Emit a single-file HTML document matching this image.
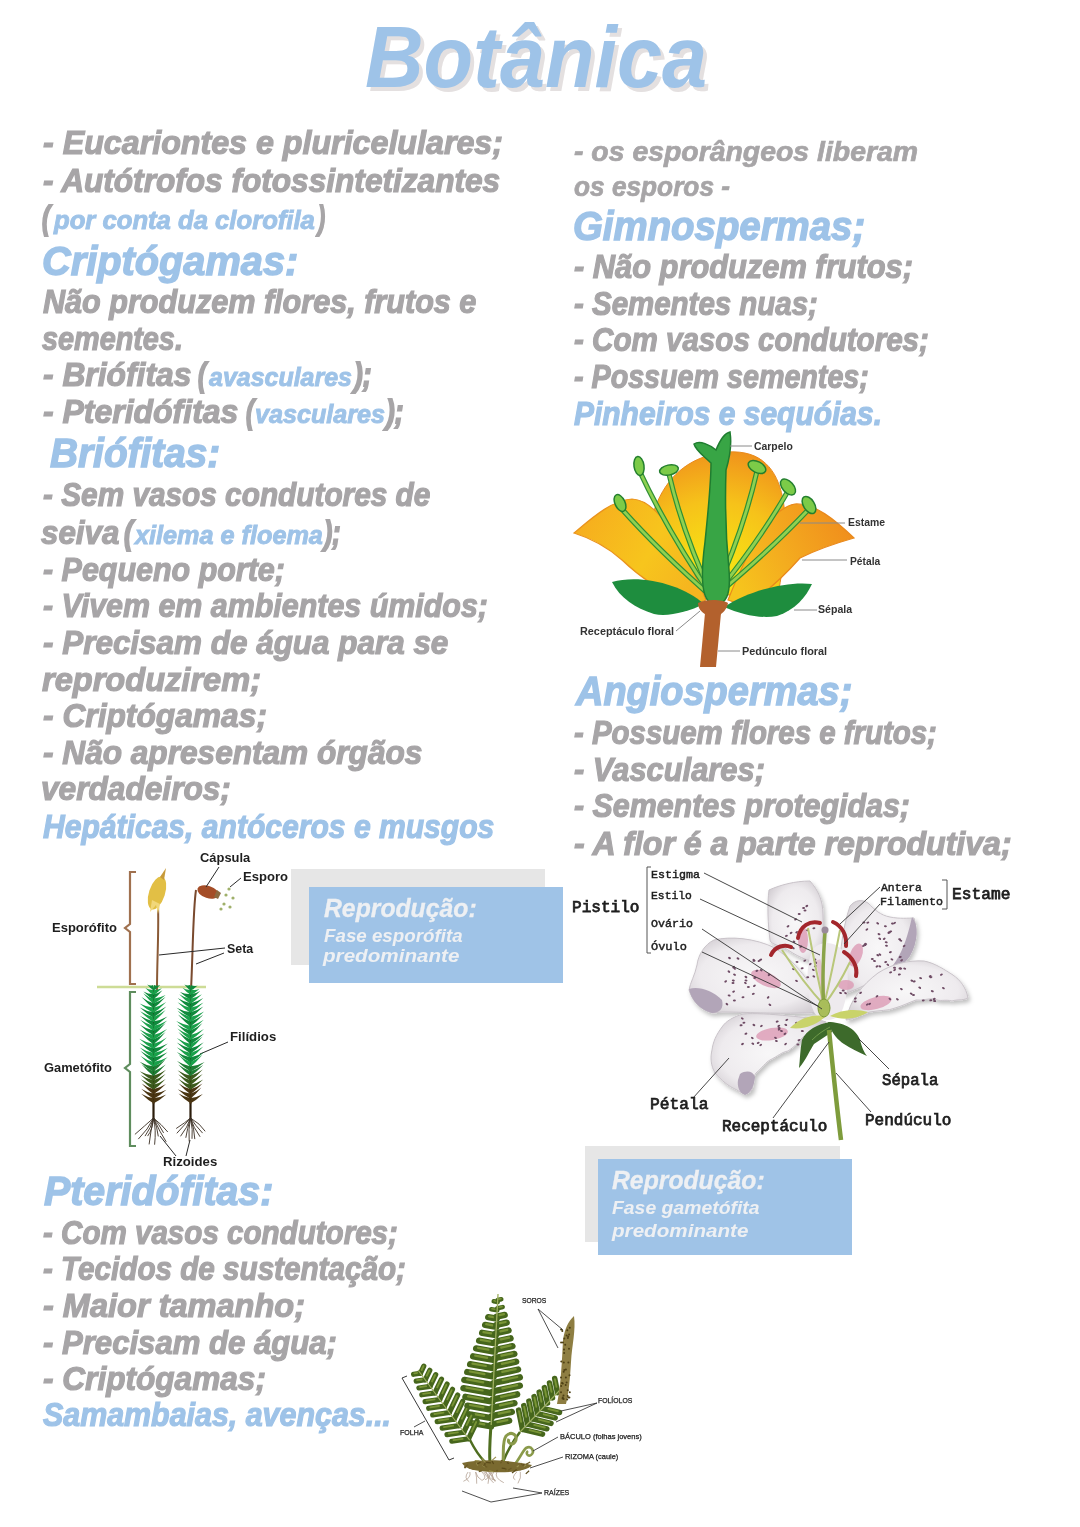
<!DOCTYPE html>
<html><head><meta charset="utf-8"><style>
html,body{margin:0;padding:0;background:#fff;}
body{width:1080px;height:1527px;position:relative;overflow:hidden;}
.a,.b,.c,.d,.e{position:absolute;line-height:1;white-space:pre;transform-origin:0 0;}
.a{font-family:"Liberation Sans",sans-serif;font-style:italic;font-weight:bold;}
.b{font-family:"Liberation Sans",sans-serif;font-weight:bold;}
.c{font-family:"Liberation Sans",sans-serif;}
.d{font-family:"Liberation Mono",monospace;}
.e{font-family:"Liberation Mono",monospace;font-weight:bold;}
svg{position:absolute;left:0;top:0;}
</style></head><body>
<svg width="1080" height="1527" viewBox="0 0 1080 1527">
<rect x="291" y="869" width="254" height="96" fill="#e6e6e6"/>
<rect x="309" y="887" width="254" height="96" fill="#9fc3e7"/>
<rect x="585" y="1146" width="255" height="96" fill="#e6e6e6"/>
<rect x="598" y="1159" width="254" height="96" fill="#9fc3e7"/>
<defs>
<radialGradient id="gd" cx="715" cy="575" r="135" gradientUnits="userSpaceOnUse">
<stop offset="0" stop-color="#f7ea12"/><stop offset="0.55" stop-color="#f6c21a"/><stop offset="1" stop-color="#ef8a1c"/></radialGradient>
<linearGradient id="gl" x1="574" y1="520" x2="690" y2="590" gradientUnits="userSpaceOnUse">
<stop offset="0" stop-color="#f6ac1e"/><stop offset="0.6" stop-color="#f7c51d"/><stop offset="1" stop-color="#f5b51f"/></linearGradient>
<linearGradient id="gr" x1="854" y1="530" x2="740" y2="590" gradientUnits="userSpaceOnUse">
<stop offset="0" stop-color="#f08d1c"/><stop offset="0.6" stop-color="#f4ad1f"/><stop offset="1" stop-color="#f6c41d"/></linearGradient>
</defs>
<path d="M648 595 C640 530 655 458 728 452 C795 448 790 530 778 595 Z" fill="url(#gd)" stroke="#e98a1d" stroke-width="1"/>
<path d="M574 533 C592 518 612 500 632 499 C660 500 685 550 706 600 L690 606 C665 592 645 582 622 560 C605 545 590 538 574 533 Z" fill="url(#gl)" stroke="#ea931d" stroke-width="1.2"/>
<path d="M854 538 C835 520 815 503 795 504 C770 508 748 550 728 600 L745 606 C768 592 785 575 800 558 C820 548 840 542 854 538 Z" fill="url(#gr)" stroke="#e9891c" stroke-width="1.2"/>
<path d="M620 507 Q658.5 550.5 713 598" stroke="#2f8f35" stroke-width="5.2" fill="none"/>
<path d="M639 470 Q668.0 532.0 713 598" stroke="#2f8f35" stroke-width="5.2" fill="none"/>
<path d="M669 474 Q683.0 534.0 713 598" stroke="#2f8f35" stroke-width="5.2" fill="none"/>
<path d="M757 471 Q743.0 532.5 713 598" stroke="#2f8f35" stroke-width="5.2" fill="none"/>
<path d="M788 491 Q758.5 542.5 713 598" stroke="#2f8f35" stroke-width="5.2" fill="none"/>
<path d="M809 509 Q769.0 551.5 713 598" stroke="#2f8f35" stroke-width="5.2" fill="none"/>
<path d="M620 507 Q658.5 550.5 713 598" stroke="#8fd150" stroke-width="2.8" fill="none"/>
<path d="M639 470 Q668.0 532.0 713 598" stroke="#8fd150" stroke-width="2.8" fill="none"/>
<path d="M669 474 Q683.0 534.0 713 598" stroke="#8fd150" stroke-width="2.8" fill="none"/>
<path d="M757 471 Q743.0 532.5 713 598" stroke="#8fd150" stroke-width="2.8" fill="none"/>
<path d="M788 491 Q758.5 542.5 713 598" stroke="#8fd150" stroke-width="2.8" fill="none"/>
<path d="M809 509 Q769.0 551.5 713 598" stroke="#8fd150" stroke-width="2.8" fill="none"/>
<ellipse cx="620" cy="503" rx="5" ry="9" transform="rotate(-25 620 503)" fill="#7ccb48" stroke="#237f2e" stroke-width="1.5"/>
<ellipse cx="639" cy="466" rx="5" ry="9.5" transform="rotate(-8 639 466)" fill="#7ccb48" stroke="#237f2e" stroke-width="1.5"/>
<ellipse cx="669" cy="470" rx="9.5" ry="5" transform="rotate(-12 669 470)" fill="#7ccb48" stroke="#237f2e" stroke-width="1.5"/>
<ellipse cx="757" cy="467" rx="9.5" ry="5.5" transform="rotate(28 757 467)" fill="#7ccb48" stroke="#237f2e" stroke-width="1.5"/>
<ellipse cx="788" cy="487" rx="9.5" ry="5.5" transform="rotate(48 788 487)" fill="#7ccb48" stroke="#237f2e" stroke-width="1.5"/>
<ellipse cx="809" cy="505" rx="5.5" ry="9.5" transform="rotate(-32 809 505)" fill="#7ccb48" stroke="#237f2e" stroke-width="1.5"/>
<path d="M612 582 C640 574 682 584 704 604 C688 612 668 617 654 614 C635 608 620 598 612 582 Z" fill="#1e8d3e"/>
<path d="M812 584 C788 581 750 590 724 607 C742 615 762 619 777 616 C795 610 806 597 812 584 Z" fill="#1e8d3e"/>
<path d="M713 604 C700 601 701 572 705 542 C708 512 711 485 711 463 C704 456 696 451 694 444 C700 440 710 445 716 450 C720 440 725 433 730 432 C732 445 729 460 726 470 C725 500 726 540 729 570 C731 595 726 606 713 604 Z" fill="#38a545" stroke="#1f7d30" stroke-width="1.5"/>
<path d="M698 603 C705 599 722 599 728 603 C727 610 722 613 720 615 L706 615 C702 612 698 609 698 603 Z" fill="#b3612d"/>
<path d="M705 613 L721 613 L716 667 L700 667 Z" fill="#b3612d"/>
<line x1="730" y1="446" x2="752" y2="446" stroke="#8a8a8a" stroke-width="1"/>
<line x1="800" y1="523" x2="845" y2="523" stroke="#8a8a8a" stroke-width="1"/>
<line x1="802" y1="560" x2="847" y2="560" stroke="#8a8a8a" stroke-width="1"/>
<line x1="794" y1="610" x2="817" y2="610" stroke="#8a8a8a" stroke-width="1"/>
<line x1="676" y1="631" x2="700" y2="611" stroke="#8a8a8a" stroke-width="1"/>
<line x1="718" y1="651" x2="740" y2="651" stroke="#8a8a8a" stroke-width="1"/>
<path d="M136 872 L130 872 L130 924 L125 928 L130 932 L130 984 L136 984" stroke="#a0714f" stroke-width="2.2" fill="none"/>
<path d="M136 992 L130 992 L130 1064 L125 1068 L130 1072 L130 1146 L136 1146" stroke="#5f8d5e" stroke-width="2.2" fill="none"/>
<line x1="97" y1="987" x2="206" y2="987" stroke="#cddc96" stroke-width="2.5"/>
<path d="M158 905 C159 930 157 960 157 990" stroke="#8a5a36" stroke-width="2" fill="none"/>
<path d="M196 890 C193 910 193 950 191 990" stroke="#7a4a2e" stroke-width="2" fill="none"/>
<ellipse cx="157" cy="893" rx="8" ry="17" transform="rotate(18 157 893)" fill="#e2bf45"/>
<path d="M160 877 L166 868 L164 880 Z" fill="#c79a3a"/>
<path d="M152 900 L150 912 L156 905 L158 914 L160 904 Z" fill="#f1d77a"/>
<ellipse cx="208" cy="892" rx="11" ry="6" transform="rotate(18 208 892)" fill="#a44d27"/>
<path d="M217 890 L221 893 L218 899 L214 897 Z" fill="#8b6a40"/>
<circle cx="226" cy="895" r="1.6" fill="#9fb06a"/>
<circle cx="229" cy="889" r="1.6" fill="#9fb06a"/>
<circle cx="224" cy="904" r="1.6" fill="#9fb06a"/>
<circle cx="230" cy="907" r="1.6" fill="#9fb06a"/>
<circle cx="221" cy="909" r="1.6" fill="#9fb06a"/>
<circle cx="233" cy="898" r="1.6" fill="#9fb06a"/>
<line x1="219" y1="867" x2="206" y2="887" stroke="#2a2a2a" stroke-width="1"/>
<line x1="241" y1="878" x2="230" y2="887" stroke="#2a2a2a" stroke-width="1"/>
<line x1="159" y1="955" x2="225" y2="948" stroke="#2a2a2a" stroke-width="1"/>
<line x1="196" y1="964" x2="224" y2="953" stroke="#2a2a2a" stroke-width="1"/>
<line x1="228" y1="1042" x2="200" y2="1054" stroke="#2a2a2a" stroke-width="1"/>
<line x1="176" y1="1156" x2="160" y2="1136" stroke="#2a2a2a" stroke-width="1"/>
<line x1="186" y1="1156" x2="190" y2="1140" stroke="#2a2a2a" stroke-width="1"/>
<path d="M153.5 990 L153.5 1119" stroke="#2b1c0a" stroke-width="2.2"/>
<path d="M154.5 991.0 Q150.9 989.3 147.2 984.6 Q150.3 986.3 153.0 985.0 Z" fill="#0f8a3c"/>
<path d="M152.5 991.0 Q156.3 989.5 160.2 985.0 Q156.9 986.5 154.0 985.0 Z" fill="#0f8a3c"/>
<path d="M154.5 995.52 Q150.1 993.2 145.4 987.9 Q149.5 990.2 153.0 989.52 Z" fill="#19a04a"/>
<path d="M152.5 995.52 Q157.1 993.4 161.9 988.3 Q157.7 990.4 154.0 989.52 Z" fill="#19a04a"/>
<path d="M154.5 1000.04 Q149.1 997.2 143.4 991.4 Q148.5 994.2 153.0 994.04 Z" fill="#0f8a3c"/>
<path d="M152.5 1000.04 Q157.4 996.7 162.5 990.3 Q158.0 993.7 154.0 994.04 Z" fill="#0f8a3c"/>
<path d="M154.5 1004.56 Q149.0 1000.4 143.2 993.2 Q148.4 997.4 153.0 998.56 Z" fill="#19a04a"/>
<path d="M152.5 1004.56 Q158.9 1001.3 165.6 995.1 Q159.5 998.3 154.0 998.56 Z" fill="#19a04a"/>
<path d="M154.5 1009.08 Q148.1 1004.6 141.5 997.1 Q147.5 1001.6 153.0 1003.08 Z" fill="#0f8a3c"/>
<path d="M152.5 1009.08 Q158.9 1004.6 165.5 997.0 Q159.5 1001.6 154.0 1003.08 Z" fill="#0f8a3c"/>
<path d="M154.5 1013.6 Q147.2 1010.0 139.6 1003.5 Q146.6 1007.0 153.0 1007.6 Z" fill="#19a04a"/>
<path d="M152.5 1013.6 Q159.2 1009.3 166.2 1002.0 Q159.8 1006.3 154.0 1007.6 Z" fill="#19a04a"/>
<path d="M154.5 1018.12 Q147.3 1014.3 139.8 1007.4 Q146.7 1011.3 153.0 1012.12 Z" fill="#0f8a3c"/>
<path d="M152.5 1018.12 Q159.3 1013.8 166.4 1006.4 Q159.9 1010.8 154.0 1012.12 Z" fill="#0f8a3c"/>
<path d="M154.5 1022.64 Q147.4 1018.5 140.1 1011.3 Q146.8 1015.5 153.0 1016.64 Z" fill="#19a04a"/>
<path d="M152.5 1022.64 Q159.0 1017.8 165.6 1010.0 Q159.6 1014.8 154.0 1016.64 Z" fill="#19a04a"/>
<path d="M154.5 1027.1599999999999 Q147.4 1022.9 140.0 1015.7 Q146.8 1019.9 153.0 1021.16 Z" fill="#0f8a3c"/>
<path d="M152.5 1027.1599999999999 Q159.9 1023.3 167.5 1016.4 Q160.5 1020.3 154.0 1021.16 Z" fill="#0f8a3c"/>
<path d="M154.5 1031.68 Q147.5 1027.3 140.2 1019.8 Q146.9 1024.3 153.0 1025.68 Z" fill="#19a04a"/>
<path d="M152.5 1031.68 Q159.8 1027.6 167.3 1020.4 Q160.4 1024.6 154.0 1025.68 Z" fill="#19a04a"/>
<path d="M154.5 1036.2 Q147.2 1032.0 139.8 1024.7 Q146.6 1029.0 153.0 1030.2 Z" fill="#0f8a3c"/>
<path d="M152.5 1036.2 Q159.0 1031.1 165.7 1023.1 Q159.6 1028.1 154.0 1030.2 Z" fill="#0f8a3c"/>
<path d="M154.5 1040.72 Q147.1 1036.6 139.5 1029.4 Q146.5 1033.6 153.0 1034.72 Z" fill="#19a04a"/>
<path d="M152.5 1040.72 Q159.7 1036.3 167.1 1029.0 Q160.3 1033.3 154.0 1034.72 Z" fill="#19a04a"/>
<path d="M154.5 1045.24 Q147.7 1040.4 140.6 1032.7 Q147.1 1037.4 153.0 1039.24 Z" fill="#0f8a3c"/>
<path d="M152.5 1045.24 Q159.0 1040.1 165.6 1031.9 Q159.6 1037.1 154.0 1039.24 Z" fill="#0f8a3c"/>
<path d="M154.5 1049.76 Q147.0 1045.8 139.2 1038.8 Q146.4 1042.8 153.0 1043.76 Z" fill="#19a04a"/>
<path d="M152.5 1049.76 Q159.6 1045.2 166.8 1037.6 Q160.2 1042.2 154.0 1043.76 Z" fill="#19a04a"/>
<path d="M154.5 1054.28 Q147.2 1050.1 139.6 1042.9 Q146.6 1047.1 153.0 1048.28 Z" fill="#0f8a3c"/>
<path d="M152.5 1054.28 Q160.0 1050.3 167.8 1043.4 Q160.6 1047.3 154.0 1048.28 Z" fill="#0f8a3c"/>
<path d="M154.5 1058.8 Q147.2 1054.6 139.7 1047.4 Q146.6 1051.6 153.0 1052.8 Z" fill="#19a04a"/>
<path d="M152.5 1058.8 Q160.1 1054.9 167.8 1048.0 Q160.7 1051.9 154.0 1052.8 Z" fill="#19a04a"/>
<path d="M154.5 1063.32 Q147.6 1058.7 140.5 1051.1 Q147.0 1055.7 153.0 1057.32 Z" fill="#0f8a3c"/>
<path d="M152.5 1063.32 Q159.9 1059.3 167.5 1052.3 Q160.5 1056.3 154.0 1057.32 Z" fill="#0f8a3c"/>
<path d="M154.5 1067.84 Q147.6 1063.3 140.5 1055.9 Q147.0 1060.3 153.0 1061.84 Z" fill="#19a04a"/>
<path d="M152.5 1067.84 Q160.0 1064.0 167.7 1057.3 Q160.6 1061.0 154.0 1061.84 Z" fill="#19a04a"/>
<path d="M154.5 1072.36 Q147.1 1068.5 139.6 1061.7 Q146.5 1065.5 153.0 1066.36 Z" fill="#1d7d33"/>
<path d="M152.5 1072.36 Q158.9 1067.5 165.5 1059.6 Q159.5 1064.5 154.0 1066.36 Z" fill="#1d7d33"/>
<path d="M154.5 1076.88 Q148.1 1072.1 141.5 1064.3 Q147.5 1069.1 153.0 1070.88 Z" fill="#1d7d33"/>
<path d="M152.5 1076.88 Q159.0 1072.2 165.7 1064.5 Q159.6 1069.2 154.0 1070.88 Z" fill="#1d7d33"/>
<path d="M154.5 1081.4 Q147.2 1077.8 139.7 1071.2 Q146.6 1074.8 153.0 1075.4 Z" fill="#3b5a1c"/>
<path d="M152.5 1081.4 Q159.2 1077.1 166.1 1069.7 Q159.8 1074.1 154.0 1075.4 Z" fill="#3b5a1c"/>
<path d="M154.5 1085.92 Q147.6 1081.9 140.6 1074.9 Q147.0 1078.9 153.0 1079.92 Z" fill="#3b5a1c"/>
<path d="M152.5 1085.92 Q159.0 1081.5 165.6 1074.1 Q159.6 1078.5 154.0 1079.92 Z" fill="#3b5a1c"/>
<path d="M154.5 1090.44 Q147.9 1086.4 141.0 1079.3 Q147.3 1083.4 153.0 1084.44 Z" fill="#3b5a1c"/>
<path d="M152.5 1090.44 Q159.0 1086.2 165.7 1078.9 Q159.6 1083.2 154.0 1084.44 Z" fill="#3b5a1c"/>
<path d="M154.5 1094.96 Q148.1 1090.8 141.6 1083.5 Q147.5 1087.8 153.0 1088.96 Z" fill="#4a3512"/>
<path d="M152.5 1094.96 Q159.1 1091.1 166.0 1084.1 Q159.7 1088.1 154.0 1088.96 Z" fill="#4a3512"/>
<path d="M154.5 1099.48 Q148.0 1095.7 141.2 1088.8 Q147.4 1092.7 153.0 1093.48 Z" fill="#4a3512"/>
<path d="M152.5 1099.48 Q159.4 1096.1 166.5 1089.7 Q160.0 1093.1 154.0 1093.48 Z" fill="#4a3512"/>
<path d="M154.5 1104.0 Q148.0 1100.4 141.2 1093.8 Q147.4 1097.4 153.0 1098.0 Z" fill="#4a3512"/>
<path d="M152.5 1104.0 Q159.3 1100.7 166.3 1094.4 Q159.9 1097.7 154.0 1098.0 Z" fill="#4a3512"/>
<path d="M153.5 1118 Q145.2 1125.4 134.9 1134.4" stroke="#3a2e22" stroke-width="0.9" fill="none"/>
<path d="M153.5 1118 Q148.3 1129.3 138.3 1139.1" stroke="#3a2e22" stroke-width="0.9" fill="none"/>
<path d="M153.5 1118 Q151.2 1127.8 145.0 1136.1" stroke="#3a2e22" stroke-width="0.9" fill="none"/>
<path d="M153.5 1118 Q152.7 1129.5 147.6 1136.1" stroke="#3a2e22" stroke-width="0.9" fill="none"/>
<path d="M153.5 1118 Q150.8 1130.3 149.1 1144.4" stroke="#3a2e22" stroke-width="0.9" fill="none"/>
<path d="M153.5 1118 Q156.3 1130.0 154.6 1144.7" stroke="#3a2e22" stroke-width="0.9" fill="none"/>
<path d="M153.5 1118 Q157.2 1127.0 158.3 1136.4" stroke="#3a2e22" stroke-width="0.9" fill="none"/>
<path d="M153.5 1118 Q159.9 1132.4 166.2 1141.8" stroke="#3a2e22" stroke-width="0.9" fill="none"/>
<path d="M153.5 1118 Q159.1 1124.1 163.6 1132.9" stroke="#3a2e22" stroke-width="0.9" fill="none"/>
<path d="M153.5 1118 Q161.3 1124.1 167.8 1132.0" stroke="#3a2e22" stroke-width="0.9" fill="none"/>
<path d="M190.5 990 L190.5 1119" stroke="#2b1c0a" stroke-width="2.2"/>
<path d="M191.5 991.0 Q188.1 989.2 184.4 984.4 Q187.5 986.2 190.0 985.0 Z" fill="#0f8a3c"/>
<path d="M189.5 991.0 Q193.5 989.8 197.6 985.5 Q194.1 986.8 191.0 985.0 Z" fill="#0f8a3c"/>
<path d="M191.5 995.52 Q187.1 993.1 182.5 987.8 Q186.5 990.1 190.0 989.52 Z" fill="#19a04a"/>
<path d="M189.5 995.52 Q194.4 993.7 199.4 988.9 Q195.0 990.7 191.0 989.52 Z" fill="#19a04a"/>
<path d="M191.5 1000.04 Q185.8 997.5 180.0 992.0 Q185.2 994.5 190.0 994.04 Z" fill="#0f8a3c"/>
<path d="M189.5 1000.04 Q194.7 997.0 200.1 990.9 Q195.3 994.0 191.0 994.04 Z" fill="#0f8a3c"/>
<path d="M191.5 1004.56 Q185.4 1000.9 179.2 994.2 Q184.8 997.9 190.0 998.56 Z" fill="#19a04a"/>
<path d="M189.5 1004.56 Q195.6 1001.0 201.9 994.3 Q196.2 998.0 191.0 998.56 Z" fill="#19a04a"/>
<path d="M191.5 1009.08 Q184.6 1005.1 177.6 998.1 Q184.0 1002.1 190.0 1003.08 Z" fill="#0f8a3c"/>
<path d="M189.5 1009.08 Q196.3 1005.0 203.3 998.0 Q196.9 1002.0 191.0 1003.08 Z" fill="#0f8a3c"/>
<path d="M191.5 1013.6 Q184.6 1009.4 177.6 1002.3 Q184.0 1006.4 190.0 1007.6 Z" fill="#19a04a"/>
<path d="M189.5 1013.6 Q196.4 1009.5 203.5 1002.4 Q197.0 1006.5 191.0 1007.6 Z" fill="#19a04a"/>
<path d="M191.5 1018.12 Q184.1 1014.4 176.6 1007.7 Q183.5 1011.4 190.0 1012.12 Z" fill="#0f8a3c"/>
<path d="M189.5 1018.12 Q196.4 1013.8 203.4 1006.5 Q197.0 1010.8 191.0 1012.12 Z" fill="#0f8a3c"/>
<path d="M191.5 1022.64 Q184.7 1018.2 177.6 1010.7 Q184.1 1015.2 190.0 1016.64 Z" fill="#19a04a"/>
<path d="M189.5 1022.64 Q196.7 1018.6 204.1 1011.5 Q197.3 1015.6 191.0 1016.64 Z" fill="#19a04a"/>
<path d="M191.5 1027.1599999999999 Q184.9 1022.4 178.0 1014.6 Q184.3 1019.4 190.0 1021.16 Z" fill="#0f8a3c"/>
<path d="M189.5 1027.1599999999999 Q196.2 1022.5 203.1 1014.8 Q196.8 1019.5 191.0 1021.16 Z" fill="#0f8a3c"/>
<path d="M191.5 1031.68 Q183.9 1027.9 176.1 1021.1 Q183.3 1024.9 190.0 1025.68 Z" fill="#19a04a"/>
<path d="M189.5 1031.68 Q196.5 1027.3 203.8 1019.8 Q197.1 1024.3 191.0 1025.68 Z" fill="#19a04a"/>
<path d="M191.5 1036.2 Q184.4 1031.8 177.1 1024.4 Q183.8 1028.8 190.0 1030.2 Z" fill="#0f8a3c"/>
<path d="M189.5 1036.2 Q195.9 1031.1 202.5 1022.9 Q196.5 1028.1 191.0 1030.2 Z" fill="#0f8a3c"/>
<path d="M191.5 1040.72 Q184.5 1036.1 177.4 1028.5 Q183.9 1033.1 190.0 1034.72 Z" fill="#19a04a"/>
<path d="M189.5 1040.72 Q196.7 1036.3 204.0 1028.9 Q197.3 1033.3 191.0 1034.72 Z" fill="#19a04a"/>
<path d="M191.5 1045.24 Q185.1 1040.1 178.4 1031.9 Q184.5 1037.1 190.0 1039.24 Z" fill="#0f8a3c"/>
<path d="M189.5 1045.24 Q196.7 1040.9 204.2 1033.5 Q197.3 1037.9 191.0 1039.24 Z" fill="#0f8a3c"/>
<path d="M191.5 1049.76 Q184.2 1045.4 176.8 1038.1 Q183.6 1042.4 190.0 1043.76 Z" fill="#19a04a"/>
<path d="M189.5 1049.76 Q196.0 1044.6 202.7 1036.5 Q196.6 1041.6 191.0 1043.76 Z" fill="#19a04a"/>
<path d="M191.5 1054.28 Q184.3 1049.9 176.8 1042.6 Q183.7 1046.9 190.0 1048.28 Z" fill="#0f8a3c"/>
<path d="M189.5 1054.28 Q196.5 1049.7 203.8 1042.2 Q197.1 1046.7 191.0 1048.28 Z" fill="#0f8a3c"/>
<path d="M191.5 1058.8 Q184.2 1054.6 176.8 1047.3 Q183.6 1051.6 190.0 1052.8 Z" fill="#19a04a"/>
<path d="M189.5 1058.8 Q196.4 1054.1 203.4 1046.4 Q197.0 1051.1 191.0 1052.8 Z" fill="#19a04a"/>
<path d="M191.5 1063.32 Q184.2 1059.2 176.8 1052.0 Q183.6 1056.2 190.0 1057.32 Z" fill="#0f8a3c"/>
<path d="M189.5 1063.32 Q196.8 1059.2 204.3 1052.1 Q197.4 1056.2 191.0 1057.32 Z" fill="#0f8a3c"/>
<path d="M191.5 1067.84 Q185.2 1062.8 178.6 1054.7 Q184.6 1059.8 190.0 1061.84 Z" fill="#19a04a"/>
<path d="M189.5 1067.84 Q195.9 1062.8 202.5 1054.8 Q196.5 1059.8 191.0 1061.84 Z" fill="#19a04a"/>
<path d="M191.5 1072.36 Q184.4 1068.2 177.0 1061.1 Q183.8 1065.2 190.0 1066.36 Z" fill="#1d7d33"/>
<path d="M189.5 1072.36 Q197.0 1068.7 204.6 1061.9 Q197.6 1065.7 191.0 1066.36 Z" fill="#1d7d33"/>
<path d="M191.5 1076.88 Q185.0 1072.2 178.2 1064.6 Q184.4 1069.2 190.0 1070.88 Z" fill="#1d7d33"/>
<path d="M189.5 1076.88 Q196.3 1072.5 203.3 1065.1 Q196.9 1069.5 191.0 1070.88 Z" fill="#1d7d33"/>
<path d="M191.5 1081.4 Q184.6 1077.3 177.5 1070.2 Q184.0 1074.3 190.0 1075.4 Z" fill="#3b5a1c"/>
<path d="M189.5 1081.4 Q196.1 1076.9 202.8 1069.4 Q196.7 1073.9 191.0 1075.4 Z" fill="#3b5a1c"/>
<path d="M191.5 1085.92 Q185.0 1081.6 178.2 1074.2 Q184.4 1078.6 190.0 1079.92 Z" fill="#3b5a1c"/>
<path d="M189.5 1085.92 Q196.0 1081.5 202.7 1074.1 Q196.6 1078.5 191.0 1079.92 Z" fill="#3b5a1c"/>
<path d="M191.5 1090.44 Q185.0 1086.2 178.4 1078.9 Q184.4 1083.2 190.0 1084.44 Z" fill="#3b5a1c"/>
<path d="M189.5 1090.44 Q196.2 1086.5 203.2 1079.5 Q196.8 1083.5 191.0 1084.44 Z" fill="#3b5a1c"/>
<path d="M191.5 1094.96 Q185.2 1090.7 178.7 1083.4 Q184.6 1087.7 190.0 1088.96 Z" fill="#4a3512"/>
<path d="M189.5 1094.96 Q195.9 1090.8 202.5 1083.6 Q196.5 1087.8 191.0 1088.96 Z" fill="#4a3512"/>
<path d="M191.5 1099.48 Q184.8 1095.9 177.8 1089.3 Q184.2 1092.9 190.0 1093.48 Z" fill="#4a3512"/>
<path d="M189.5 1099.48 Q195.4 1095.0 201.4 1087.5 Q196.0 1092.0 191.0 1093.48 Z" fill="#4a3512"/>
<path d="M191.5 1104.0 Q185.1 1100.2 178.5 1093.5 Q184.5 1097.2 190.0 1098.0 Z" fill="#4a3512"/>
<path d="M189.5 1104.0 Q196.1 1100.4 202.9 1093.9 Q196.7 1097.4 191.0 1098.0 Z" fill="#4a3512"/>
<path d="M190.5 1118 Q185.2 1122.7 176.2 1128.5" stroke="#3a2e22" stroke-width="0.9" fill="none"/>
<path d="M190.5 1118 Q184.8 1124.6 176.8 1133.3" stroke="#3a2e22" stroke-width="0.9" fill="none"/>
<path d="M190.5 1118 Q187.5 1127.4 180.5 1136.3" stroke="#3a2e22" stroke-width="0.9" fill="none"/>
<path d="M190.5 1118 Q187.2 1129.0 185.8 1137.8" stroke="#3a2e22" stroke-width="0.9" fill="none"/>
<path d="M190.5 1118 Q188.2 1128.7 189.2 1141.5" stroke="#3a2e22" stroke-width="0.9" fill="none"/>
<path d="M190.5 1118 Q193.1 1130.3 192.0 1138.8" stroke="#3a2e22" stroke-width="0.9" fill="none"/>
<path d="M190.5 1118 Q194.5 1129.6 194.8 1139.1" stroke="#3a2e22" stroke-width="0.9" fill="none"/>
<path d="M190.5 1118 Q193.1 1127.1 200.1 1136.8" stroke="#3a2e22" stroke-width="0.9" fill="none"/>
<path d="M190.5 1118 Q195.6 1125.7 202.6 1133.1" stroke="#3a2e22" stroke-width="0.9" fill="none"/>
<path d="M190.5 1118 Q200.4 1123.8 205.2 1131.3" stroke="#3a2e22" stroke-width="0.9" fill="none"/>
<defs>
<radialGradient id="lpg" cx="0.5" cy="0.5" r="0.6"><stop offset="0" stop-color="#f8f7f8"/><stop offset="0.7" stop-color="#eeebee"/><stop offset="1" stop-color="#d4cfd4"/></radialGradient>
<filter id="ls" x="-10%" y="-10%" width="130%" height="130%"><feDropShadow dx="2" dy="3" stdDeviation="2" flood-color="#000" flood-opacity="0.25"/></filter>
</defs>
<g filter="url(#ls)">
<path d="M840 995 C838 960 842 930 850 906 C855 900 862 899 868 903 C875 910 880 915 890 917 C900 919 908 918 914 918 C918 930 916 945 908 958 C900 968 890 973 880 978 C865 985 852 992 840 995 Z" fill="url(#lpg)" stroke="#c9c3c9" stroke-width="1"/>
<path d="M912 917 C919 925 918 942 910 956 C903 966 895 970 886 973 C898 962 906 945 912 917 Z" fill="#b2a5b8"/>
<path d="M769 890 C780 885 795 881 810 881 C818 890 823 900 823 915 C824 935 822 950 818 962 C808 962 795 955 785 948 C776 945 770 943 770 940 C768 925 767 905 769 890 Z" fill="url(#lpg)" stroke="#c9c3c9" stroke-width="1"/>
<path d="M846 1020 C850 1000 862 985 878 973 C892 964 908 960 924 961 C935 963 945 970 953 975 C960 980 966 987 968 998 C962 1001 958 999 952 1001 C945 999 940 1002 935 999 C928 998 922 1001 916 1000 C908 1003 902 1006 895 1008 C888 1011 880 1010 870 1012 C860 1015 852 1020 846 1020 Z" fill="url(#lpg)" stroke="#c9c3c9" stroke-width="1"/>
<path d="M826 1010 C815 990 800 965 775 948 C755 938 730 936 714 940 C705 944 698 955 697 965 C695 975 690 983 689 990 C692 1000 700 1010 712 1013 L722 1012 C745 1012 775 1014 800 1013 C812 1013 820 1012 826 1010 Z" fill="url(#lpg)" stroke="#c9c3c9" stroke-width="1"/>
<path d="M689 989 C698 986 712 990 722 1000 C724 1008 720 1013 712 1013 C700 1010 691 1000 689 989 Z" fill="#b2a5b8"/>
<path d="M826 1022 C815 1018 800 1017 790 1016 C770 1014 755 1013 743 1014 C733 1017 726 1021 722 1027 C716 1035 713 1042 712 1050 C710 1058 711 1066 715 1073 C722 1081 728 1086 737 1090 C742 1094 748 1095 752 1090 C754 1082 753 1077 756 1073 C762 1068 766 1062 770 1060 C778 1056 782 1052 788 1051 C794 1047 798 1043 800 1040 C805 1035 812 1030 826 1022 Z" fill="url(#lpg)" stroke="#c9c3c9" stroke-width="1"/>
<path d="M740 1074 C746 1070 753 1071 755 1077 C754 1086 751 1093 745 1095 C739 1093 737 1086 738 1080 Z" fill="#b2a5b8"/>
</g>
<path d="M812 950 C820 940 838 940 845 955 C850 975 848 1000 840 1015 C832 1022 820 1022 814 1012 C806 995 805 970 812 950 Z" fill="#eeeaee"/>
<path d="M818 960 C822 975 824 995 822 1010" stroke="#dca8bd" stroke-width="5" fill="none" opacity="0.6"/>
<ellipse cx="766" cy="979" rx="16" ry="7" transform="rotate(25 766 979)" fill="#dc9ab4" opacity="0.8"/>
<ellipse cx="772" cy="1034" rx="16" ry="6" transform="rotate(-10 772 1034)" fill="#dc9ab4" opacity="0.8"/>
<ellipse cx="876" cy="1003" rx="16" ry="6" transform="rotate(-15 876 1003)" fill="#dc9ab4" opacity="0.8"/>
<ellipse cx="856" cy="955" rx="6" ry="12" transform="rotate(20 856 955)" fill="#dc9ab4" opacity="0.8"/>
<ellipse cx="803" cy="940" rx="5" ry="13" transform="rotate(0 803 940)" fill="#dc9ab4" opacity="0.8"/>
<ellipse cx="846" cy="985" rx="8" ry="5" transform="rotate(0 846 985)" fill="#dc9ab4" opacity="0.8"/>
<ellipse cx="745.4" cy="983.0" rx="1.5" ry="1.0" transform="rotate(34 745.4 983.0)" fill="#6d4a63"/>
<ellipse cx="746.0" cy="980.4" rx="1.5" ry="1.0" transform="rotate(7 746.0 980.4)" fill="#6d4a63"/>
<ellipse cx="733.3" cy="980.6" rx="1.5" ry="1.0" transform="rotate(10 733.3 980.6)" fill="#6d4a63"/>
<ellipse cx="760.7" cy="959.7" rx="1.5" ry="1.0" transform="rotate(-16 760.7 959.7)" fill="#6d4a63"/>
<ellipse cx="729.1" cy="995.5" rx="1.5" ry="1.0" transform="rotate(15 729.1 995.5)" fill="#6d4a63"/>
<ellipse cx="726.9" cy="1004.1" rx="1.5" ry="1.0" transform="rotate(37 726.9 1004.1)" fill="#6d4a63"/>
<ellipse cx="754.4" cy="985.8" rx="1.5" ry="1.0" transform="rotate(-27 754.4 985.8)" fill="#6d4a63"/>
<ellipse cx="725.7" cy="981.4" rx="1.5" ry="1.0" transform="rotate(-35 725.7 981.4)" fill="#6d4a63"/>
<ellipse cx="733.6" cy="967.1" rx="1.5" ry="1.0" transform="rotate(-38 733.6 967.1)" fill="#6d4a63"/>
<ellipse cx="745.9" cy="977.0" rx="1.5" ry="1.0" transform="rotate(27 745.9 977.0)" fill="#6d4a63"/>
<ellipse cx="748.4" cy="987.0" rx="1.5" ry="1.0" transform="rotate(-0 748.4 987.0)" fill="#6d4a63"/>
<ellipse cx="754.8" cy="977.9" rx="1.5" ry="1.0" transform="rotate(-18 754.8 977.9)" fill="#6d4a63"/>
<ellipse cx="769.9" cy="1004.8" rx="1.5" ry="1.0" transform="rotate(27 769.9 1004.8)" fill="#6d4a63"/>
<ellipse cx="756.9" cy="970.8" rx="1.5" ry="1.0" transform="rotate(-22 756.9 970.8)" fill="#6d4a63"/>
<ellipse cx="738.0" cy="958.5" rx="1.5" ry="1.0" transform="rotate(21 738.0 958.5)" fill="#6d4a63"/>
<ellipse cx="743.0" cy="997.3" rx="1.5" ry="1.0" transform="rotate(-9 743.0 997.3)" fill="#6d4a63"/>
<ellipse cx="768.1" cy="997.4" rx="1.5" ry="1.0" transform="rotate(-40 768.1 997.4)" fill="#6d4a63"/>
<ellipse cx="734.4" cy="1000.5" rx="1.5" ry="1.0" transform="rotate(-2 734.4 1000.5)" fill="#6d4a63"/>
<ellipse cx="769.1" cy="974.9" rx="1.5" ry="1.0" transform="rotate(-34 769.1 974.9)" fill="#6d4a63"/>
<ellipse cx="753.3" cy="993.9" rx="1.5" ry="1.0" transform="rotate(-18 753.3 993.9)" fill="#6d4a63"/>
<ellipse cx="728.9" cy="971.6" rx="1.5" ry="1.0" transform="rotate(37 728.9 971.6)" fill="#6d4a63"/>
<ellipse cx="759.1" cy="960.9" rx="1.5" ry="1.0" transform="rotate(-20 759.1 960.9)" fill="#6d4a63"/>
<ellipse cx="729.5" cy="958.0" rx="1.5" ry="1.0" transform="rotate(24 729.5 958.0)" fill="#6d4a63"/>
<ellipse cx="733.0" cy="983.0" rx="1.5" ry="1.0" transform="rotate(-4 733.0 983.0)" fill="#6d4a63"/>
<ellipse cx="733.6" cy="991.6" rx="1.5" ry="1.0" transform="rotate(-30 733.6 991.6)" fill="#6d4a63"/>
<ellipse cx="754.0" cy="960.8" rx="1.5" ry="1.0" transform="rotate(-6 754.0 960.8)" fill="#6d4a63"/>
<ellipse cx="734.6" cy="968.5" rx="1.5" ry="1.0" transform="rotate(38 734.6 968.5)" fill="#6d4a63"/>
<ellipse cx="761.2" cy="970.2" rx="1.5" ry="1.0" transform="rotate(31 761.2 970.2)" fill="#6d4a63"/>
<ellipse cx="734.5" cy="974.7" rx="1.5" ry="1.0" transform="rotate(28 734.5 974.7)" fill="#6d4a63"/>
<ellipse cx="753.9" cy="960.0" rx="1.5" ry="1.0" transform="rotate(39 753.9 960.0)" fill="#6d4a63"/>
<ellipse cx="753.9" cy="1025.0" rx="1.5" ry="1.0" transform="rotate(22 753.9 1025.0)" fill="#6d4a63"/>
<ellipse cx="761.4" cy="1026.0" rx="1.5" ry="1.0" transform="rotate(-34 761.4 1026.0)" fill="#6d4a63"/>
<ellipse cx="745.9" cy="1033.7" rx="1.5" ry="1.0" transform="rotate(-21 745.9 1033.7)" fill="#6d4a63"/>
<ellipse cx="779.1" cy="1028.0" rx="1.5" ry="1.0" transform="rotate(-4 779.1 1028.0)" fill="#6d4a63"/>
<ellipse cx="802.3" cy="1031.1" rx="1.5" ry="1.0" transform="rotate(6 802.3 1031.1)" fill="#6d4a63"/>
<ellipse cx="796.3" cy="1022.9" rx="1.5" ry="1.0" transform="rotate(-28 796.3 1022.9)" fill="#6d4a63"/>
<ellipse cx="799.0" cy="1040.1" rx="1.5" ry="1.0" transform="rotate(-20 799.0 1040.1)" fill="#6d4a63"/>
<ellipse cx="752.3" cy="1038.0" rx="1.5" ry="1.0" transform="rotate(35 752.3 1038.0)" fill="#6d4a63"/>
<ellipse cx="752.8" cy="1043.7" rx="1.5" ry="1.0" transform="rotate(31 752.8 1043.7)" fill="#6d4a63"/>
<ellipse cx="779.2" cy="1029.4" rx="1.5" ry="1.0" transform="rotate(-32 779.2 1029.4)" fill="#6d4a63"/>
<ellipse cx="742.5" cy="1044.0" rx="1.5" ry="1.0" transform="rotate(-21 742.5 1044.0)" fill="#6d4a63"/>
<ellipse cx="785.8" cy="1024.9" rx="1.5" ry="1.0" transform="rotate(26 785.8 1024.9)" fill="#6d4a63"/>
<ellipse cx="778.8" cy="1025.9" rx="1.5" ry="1.0" transform="rotate(-26 778.8 1025.9)" fill="#6d4a63"/>
<ellipse cx="786.8" cy="1019.9" rx="1.5" ry="1.0" transform="rotate(-22 786.8 1019.9)" fill="#6d4a63"/>
<ellipse cx="776.4" cy="1041.0" rx="1.5" ry="1.0" transform="rotate(9 776.4 1041.0)" fill="#6d4a63"/>
<ellipse cx="758.2" cy="1042.8" rx="1.5" ry="1.0" transform="rotate(-24 758.2 1042.8)" fill="#6d4a63"/>
<ellipse cx="741.1" cy="1025.3" rx="1.5" ry="1.0" transform="rotate(-4 741.1 1025.3)" fill="#6d4a63"/>
<ellipse cx="743.9" cy="1022.8" rx="1.5" ry="1.0" transform="rotate(-10 743.9 1022.8)" fill="#6d4a63"/>
<ellipse cx="777.2" cy="1021.6" rx="1.5" ry="1.0" transform="rotate(-11 777.2 1021.6)" fill="#6d4a63"/>
<ellipse cx="797.9" cy="1044.5" rx="1.5" ry="1.0" transform="rotate(13 797.9 1044.5)" fill="#6d4a63"/>
<ellipse cx="784.9" cy="1033.8" rx="1.5" ry="1.0" transform="rotate(-29 784.9 1033.8)" fill="#6d4a63"/>
<ellipse cx="742.3" cy="1018.5" rx="1.5" ry="1.0" transform="rotate(33 742.3 1018.5)" fill="#6d4a63"/>
<ellipse cx="785.6" cy="1044.0" rx="1.5" ry="1.0" transform="rotate(-38 785.6 1044.0)" fill="#6d4a63"/>
<ellipse cx="781.4" cy="1031.0" rx="1.5" ry="1.0" transform="rotate(18 781.4 1031.0)" fill="#6d4a63"/>
<ellipse cx="760.7" cy="1045.0" rx="1.5" ry="1.0" transform="rotate(-34 760.7 1045.0)" fill="#6d4a63"/>
<ellipse cx="775.5" cy="1037.9" rx="1.5" ry="1.0" transform="rotate(32 775.5 1037.9)" fill="#6d4a63"/>
<ellipse cx="891.9" cy="959.3" rx="1.5" ry="1.0" transform="rotate(23 891.9 959.3)" fill="#6d4a63"/>
<ellipse cx="900.8" cy="940.6" rx="1.5" ry="1.0" transform="rotate(15 900.8 940.6)" fill="#6d4a63"/>
<ellipse cx="900.0" cy="968.2" rx="1.5" ry="1.0" transform="rotate(-7 900.0 968.2)" fill="#6d4a63"/>
<ellipse cx="894.5" cy="967.8" rx="1.5" ry="1.0" transform="rotate(6 894.5 967.8)" fill="#6d4a63"/>
<ellipse cx="886.2" cy="942.3" rx="1.5" ry="1.0" transform="rotate(7 886.2 942.3)" fill="#6d4a63"/>
<ellipse cx="885.4" cy="926.3" rx="1.5" ry="1.0" transform="rotate(11 885.4 926.3)" fill="#6d4a63"/>
<ellipse cx="904.7" cy="968.6" rx="1.5" ry="1.0" transform="rotate(18 904.7 968.6)" fill="#6d4a63"/>
<ellipse cx="874.4" cy="961.0" rx="1.5" ry="1.0" transform="rotate(6 874.4 961.0)" fill="#6d4a63"/>
<ellipse cx="877.0" cy="966.4" rx="1.5" ry="1.0" transform="rotate(-33 877.0 966.4)" fill="#6d4a63"/>
<ellipse cx="892.5" cy="923.6" rx="1.5" ry="1.0" transform="rotate(8 892.5 923.6)" fill="#6d4a63"/>
<ellipse cx="879.0" cy="934.2" rx="1.5" ry="1.0" transform="rotate(16 879.0 934.2)" fill="#6d4a63"/>
<ellipse cx="879.9" cy="954.6" rx="1.5" ry="1.0" transform="rotate(34 879.9 954.6)" fill="#6d4a63"/>
<ellipse cx="867.8" cy="922.6" rx="1.5" ry="1.0" transform="rotate(-16 867.8 922.6)" fill="#6d4a63"/>
<ellipse cx="888.9" cy="932.7" rx="1.5" ry="1.0" transform="rotate(-26 888.9 932.7)" fill="#6d4a63"/>
<ellipse cx="900.3" cy="957.0" rx="1.5" ry="1.0" transform="rotate(-5 900.3 957.0)" fill="#6d4a63"/>
<ellipse cx="899.6" cy="939.3" rx="1.5" ry="1.0" transform="rotate(13 899.6 939.3)" fill="#6d4a63"/>
<ellipse cx="864.9" cy="944.8" rx="1.5" ry="1.0" transform="rotate(24 864.9 944.8)" fill="#6d4a63"/>
<ellipse cx="900.7" cy="968.7" rx="1.5" ry="1.0" transform="rotate(-9 900.7 968.7)" fill="#6d4a63"/>
<ellipse cx="884.2" cy="938.8" rx="1.5" ry="1.0" transform="rotate(-29 884.2 938.8)" fill="#6d4a63"/>
<ellipse cx="879.8" cy="966.4" rx="1.5" ry="1.0" transform="rotate(28 879.8 966.4)" fill="#6d4a63"/>
<ellipse cx="890.6" cy="972.4" rx="1.5" ry="1.0" transform="rotate(-18 890.6 972.4)" fill="#6d4a63"/>
<ellipse cx="863.5" cy="945.9" rx="1.5" ry="1.0" transform="rotate(-18 863.5 945.9)" fill="#6d4a63"/>
<ellipse cx="865.7" cy="943.9" rx="1.5" ry="1.0" transform="rotate(10 865.7 943.9)" fill="#6d4a63"/>
<ellipse cx="879.7" cy="938.7" rx="1.5" ry="1.0" transform="rotate(27 879.7 938.7)" fill="#6d4a63"/>
<ellipse cx="904.1" cy="946.0" rx="1.5" ry="1.0" transform="rotate(-34 904.1 946.0)" fill="#6d4a63"/>
<ellipse cx="856.6" cy="968.3" rx="1.5" ry="1.0" transform="rotate(-37 856.6 968.3)" fill="#6d4a63"/>
<ellipse cx="890.4" cy="952.2" rx="1.5" ry="1.0" transform="rotate(-15 890.4 952.2)" fill="#6d4a63"/>
<ellipse cx="894.6" cy="923.0" rx="1.5" ry="1.0" transform="rotate(-29 894.6 923.0)" fill="#6d4a63"/>
<ellipse cx="877.7" cy="923.3" rx="1.5" ry="1.0" transform="rotate(26 877.7 923.3)" fill="#6d4a63"/>
<ellipse cx="866.9" cy="929.5" rx="1.5" ry="1.0" transform="rotate(-36 866.9 929.5)" fill="#6d4a63"/>
<ellipse cx="886.5" cy="945.7" rx="1.5" ry="1.0" transform="rotate(10 886.5 945.7)" fill="#6d4a63"/>
<ellipse cx="887.8" cy="964.8" rx="1.5" ry="1.0" transform="rotate(37 887.8 964.8)" fill="#6d4a63"/>
<ellipse cx="889.2" cy="932.6" rx="1.5" ry="1.0" transform="rotate(-2 889.2 932.6)" fill="#6d4a63"/>
<ellipse cx="863.9" cy="922.6" rx="1.5" ry="1.0" transform="rotate(-2 863.9 922.6)" fill="#6d4a63"/>
<ellipse cx="890.7" cy="931.5" rx="1.5" ry="1.0" transform="rotate(-18 890.7 931.5)" fill="#6d4a63"/>
<ellipse cx="872.3" cy="959.0" rx="1.5" ry="1.0" transform="rotate(2 872.3 959.0)" fill="#6d4a63"/>
<ellipse cx="885.7" cy="962.1" rx="1.5" ry="1.0" transform="rotate(-9 885.7 962.1)" fill="#6d4a63"/>
<ellipse cx="894.6" cy="970.0" rx="1.5" ry="1.0" transform="rotate(-33 894.6 970.0)" fill="#6d4a63"/>
<ellipse cx="901.6" cy="960.3" rx="1.5" ry="1.0" transform="rotate(-30 901.6 960.3)" fill="#6d4a63"/>
<ellipse cx="877.7" cy="955.2" rx="1.5" ry="1.0" transform="rotate(33 877.7 955.2)" fill="#6d4a63"/>
<ellipse cx="901.4" cy="989.1" rx="1.5" ry="1.0" transform="rotate(30 901.4 989.1)" fill="#6d4a63"/>
<ellipse cx="930.8" cy="1000.3" rx="1.5" ry="1.0" transform="rotate(-3 930.8 1000.3)" fill="#6d4a63"/>
<ellipse cx="920.6" cy="978.1" rx="1.5" ry="1.0" transform="rotate(18 920.6 978.1)" fill="#6d4a63"/>
<ellipse cx="932.3" cy="991.2" rx="1.5" ry="1.0" transform="rotate(17 932.3 991.2)" fill="#6d4a63"/>
<ellipse cx="889.9" cy="999.0" rx="1.5" ry="1.0" transform="rotate(38 889.9 999.0)" fill="#6d4a63"/>
<ellipse cx="943.4" cy="988.1" rx="1.5" ry="1.0" transform="rotate(23 943.4 988.1)" fill="#6d4a63"/>
<ellipse cx="897.4" cy="999.3" rx="1.5" ry="1.0" transform="rotate(28 897.4 999.3)" fill="#6d4a63"/>
<ellipse cx="899.4" cy="974.5" rx="1.5" ry="1.0" transform="rotate(-5 899.4 974.5)" fill="#6d4a63"/>
<ellipse cx="913.5" cy="995.0" rx="1.5" ry="1.0" transform="rotate(-1 913.5 995.0)" fill="#6d4a63"/>
<ellipse cx="877.0" cy="996.3" rx="1.5" ry="1.0" transform="rotate(-35 877.0 996.3)" fill="#6d4a63"/>
<ellipse cx="931.0" cy="977.2" rx="1.5" ry="1.0" transform="rotate(-13 931.0 977.2)" fill="#6d4a63"/>
<ellipse cx="930.2" cy="976.2" rx="1.5" ry="1.0" transform="rotate(-28 930.2 976.2)" fill="#6d4a63"/>
<ellipse cx="911.2" cy="993.7" rx="1.5" ry="1.0" transform="rotate(27 911.2 993.7)" fill="#6d4a63"/>
<ellipse cx="923.3" cy="1000.4" rx="1.5" ry="1.0" transform="rotate(-1 923.3 1000.4)" fill="#6d4a63"/>
<ellipse cx="941.4" cy="974.6" rx="1.5" ry="1.0" transform="rotate(-22 941.4 974.6)" fill="#6d4a63"/>
<ellipse cx="911.9" cy="980.7" rx="1.5" ry="1.0" transform="rotate(18 911.9 980.7)" fill="#6d4a63"/>
<ellipse cx="919.7" cy="987.7" rx="1.5" ry="1.0" transform="rotate(27 919.7 987.7)" fill="#6d4a63"/>
<ellipse cx="914.2" cy="981.4" rx="1.5" ry="1.0" transform="rotate(-10 914.2 981.4)" fill="#6d4a63"/>
<ellipse cx="934.2" cy="999.0" rx="1.5" ry="1.0" transform="rotate(-23 934.2 999.0)" fill="#6d4a63"/>
<ellipse cx="934.6" cy="1001.1" rx="1.5" ry="1.0" transform="rotate(2 934.6 1001.1)" fill="#6d4a63"/>
<ellipse cx="799.2" cy="914.0" rx="1.5" ry="1.0" transform="rotate(3 799.2 914.0)" fill="#6d4a63"/>
<ellipse cx="796.6" cy="932.2" rx="1.5" ry="1.0" transform="rotate(-38 796.6 932.2)" fill="#6d4a63"/>
<ellipse cx="813.9" cy="928.2" rx="1.5" ry="1.0" transform="rotate(-8 813.9 928.2)" fill="#6d4a63"/>
<ellipse cx="807.6" cy="930.3" rx="1.5" ry="1.0" transform="rotate(-1 807.6 930.3)" fill="#6d4a63"/>
<ellipse cx="803.6" cy="908.0" rx="1.5" ry="1.0" transform="rotate(3 803.6 908.0)" fill="#6d4a63"/>
<ellipse cx="793.3" cy="948.1" rx="1.5" ry="1.0" transform="rotate(34 793.3 948.1)" fill="#6d4a63"/>
<ellipse cx="788.0" cy="926.3" rx="1.5" ry="1.0" transform="rotate(-30 788.0 926.3)" fill="#6d4a63"/>
<ellipse cx="794.0" cy="941.7" rx="1.5" ry="1.0" transform="rotate(32 794.0 941.7)" fill="#6d4a63"/>
<ellipse cx="795.6" cy="919.3" rx="1.5" ry="1.0" transform="rotate(-25 795.6 919.3)" fill="#6d4a63"/>
<ellipse cx="800.9" cy="946.6" rx="1.5" ry="1.0" transform="rotate(-30 800.9 946.6)" fill="#6d4a63"/>
<ellipse cx="806.8" cy="906.0" rx="1.5" ry="1.0" transform="rotate(-24 806.8 906.0)" fill="#6d4a63"/>
<ellipse cx="786.4" cy="935.9" rx="1.5" ry="1.0" transform="rotate(-14 786.4 935.9)" fill="#6d4a63"/>
<ellipse cx="791.1" cy="932.9" rx="1.5" ry="1.0" transform="rotate(-32 791.1 932.9)" fill="#6d4a63"/>
<ellipse cx="805.0" cy="910.5" rx="1.5" ry="1.0" transform="rotate(1 805.0 910.5)" fill="#6d4a63"/>
<ellipse cx="797.0" cy="961.9" rx="1.5" ry="1.0" transform="rotate(2 797.0 961.9)" fill="#6d4a63"/>
<ellipse cx="802.2" cy="968.2" rx="1.5" ry="1.0" transform="rotate(-7 802.2 968.2)" fill="#6d4a63"/>
<ellipse cx="804.8" cy="960.6" rx="1.5" ry="1.0" transform="rotate(-24 804.8 960.6)" fill="#6d4a63"/>
<ellipse cx="807.7" cy="977.3" rx="1.5" ry="1.0" transform="rotate(2 807.7 977.3)" fill="#6d4a63"/>
<ellipse cx="813.8" cy="976.4" rx="1.5" ry="1.0" transform="rotate(29 813.8 976.4)" fill="#6d4a63"/>
<ellipse cx="796.5" cy="980.9" rx="1.5" ry="1.0" transform="rotate(25 796.5 980.9)" fill="#6d4a63"/>
<ellipse cx="815.3" cy="966.1" rx="1.5" ry="1.0" transform="rotate(-15 815.3 966.1)" fill="#6d4a63"/>
<ellipse cx="815.8" cy="962.6" rx="1.5" ry="1.0" transform="rotate(40 815.8 962.6)" fill="#6d4a63"/>
<ellipse cx="814.9" cy="959.7" rx="1.5" ry="1.0" transform="rotate(-21 814.9 959.7)" fill="#6d4a63"/>
<ellipse cx="810.3" cy="964.1" rx="1.5" ry="1.0" transform="rotate(-32 810.3 964.1)" fill="#6d4a63"/>
<ellipse cx="813.3" cy="969.8" rx="1.5" ry="1.0" transform="rotate(23 813.3 969.8)" fill="#6d4a63"/>
<ellipse cx="793.5" cy="969.1" rx="1.5" ry="1.0" transform="rotate(15 793.5 969.1)" fill="#6d4a63"/>
<ellipse cx="840.5" cy="993.0" rx="1.5" ry="1.0" transform="rotate(15 840.5 993.0)" fill="#6d4a63"/>
<ellipse cx="867.3" cy="1004.5" rx="1.5" ry="1.0" transform="rotate(-31 867.3 1004.5)" fill="#6d4a63"/>
<ellipse cx="855.2" cy="1001.4" rx="1.5" ry="1.0" transform="rotate(0 855.2 1001.4)" fill="#6d4a63"/>
<ellipse cx="860.6" cy="992.8" rx="1.5" ry="1.0" transform="rotate(-34 860.6 992.8)" fill="#6d4a63"/>
<ellipse cx="843.2" cy="990.6" rx="1.5" ry="1.0" transform="rotate(4 843.2 990.6)" fill="#6d4a63"/>
<ellipse cx="855.4" cy="998.5" rx="1.5" ry="1.0" transform="rotate(-28 855.4 998.5)" fill="#6d4a63"/>
<ellipse cx="845.5" cy="993.1" rx="1.5" ry="1.0" transform="rotate(27 845.5 993.1)" fill="#6d4a63"/>
<ellipse cx="869.7" cy="1003.9" rx="1.5" ry="1.0" transform="rotate(-32 869.7 1003.9)" fill="#6d4a63"/>
<path d="M790 1028 C800 1018 812 1014 826 1016 C818 1024 805 1030 790 1028 Z" fill="#c9d36a"/>
<path d="M868 1012 C855 1008 840 1010 830 1016 C842 1020 856 1020 868 1012 Z" fill="#c9d36a"/>
<path d="M808 928 Q816.0 971.5 824 1005" stroke="#b9c77a" stroke-width="2" fill="none"/>
<path d="M840 930 Q832.0 972.5 824 1005" stroke="#b9c77a" stroke-width="2" fill="none"/>
<path d="M782 950 Q803.0 982.5 824 1005" stroke="#b9c77a" stroke-width="2" fill="none"/>
<path d="M850 962 Q837.0 988.5 824 1005" stroke="#b9c77a" stroke-width="2" fill="none"/>
<path d="M825 932 C823 960 822 985 824 1008" stroke="#8aa348" stroke-width="3.5" fill="none"/>
<circle cx="825" cy="930" r="3.5" fill="#9a8a9a"/>
<ellipse cx="824" cy="1008" rx="6" ry="9" fill="#a9bd5a" stroke="#7d9a3a" stroke-width="1"/>
<path d="M798 938 C800 926 810 920 820 923" stroke="#a3262c" stroke-width="4" stroke-linecap="round" fill="none"/>
<path d="M833 922 C842 926 847 935 846 946" stroke="#a3262c" stroke-width="4" stroke-linecap="round" fill="none"/>
<path d="M771 955 C775 946 785 944 791 947" stroke="#a3262c" stroke-width="4" stroke-linecap="round" fill="none"/>
<path d="M844 952 C852 957 858 966 856 976" stroke="#a3262c" stroke-width="4" stroke-linecap="round" fill="none"/>
<path d="M830 1022 C818 1024 806 1030 802 1040 C800 1050 800 1060 799 1068 C806 1060 810 1050 814 1044 C820 1040 826 1036 832 1032 Z" fill="#3d6a2b"/>
<path d="M828 1022 C842 1022 856 1028 860 1040 C862 1048 864 1052 867 1056 C858 1052 850 1048 844 1044 C838 1040 832 1034 828 1022 Z" fill="#3d6a2b"/>
<path d="M812 1040 C818 1034 824 1030 830 1027" stroke="#6f9a4a" stroke-width="1" fill="none"/>
<path d="M829 1030 C832 1060 836 1100 841 1140" stroke="#7e9c3c" stroke-width="4.5" fill="none"/>
<line x1="704" y1="873" x2="802" y2="922" stroke="#333" stroke-width="0.9"/>
<line x1="700" y1="899" x2="820" y2="955" stroke="#333" stroke-width="0.9"/>
<line x1="702" y1="929" x2="822" y2="1009" stroke="#333" stroke-width="0.9"/>
<line x1="702" y1="952" x2="818" y2="1006" stroke="#333" stroke-width="0.9"/>
<line x1="880" y1="887" x2="840" y2="924" stroke="#333" stroke-width="0.9"/>
<line x1="880" y1="904" x2="844" y2="944" stroke="#333" stroke-width="0.9"/>
<line x1="889" y1="1069" x2="858" y2="1038" stroke="#333" stroke-width="0.9"/>
<line x1="693" y1="1098" x2="729" y2="1058" stroke="#333" stroke-width="0.9"/>
<line x1="773" y1="1118" x2="829" y2="1042" stroke="#333" stroke-width="0.9"/>
<line x1="871" y1="1112" x2="836" y2="1073" stroke="#333" stroke-width="0.9"/>
<path d="M651 867 L647 867 L647 953 L651 953" stroke="#555" stroke-width="1" fill="none"/>
<path d="M942 880 L947 880 L947 909 L942 909" stroke="#555" stroke-width="1" fill="none"/>
<line x1="497.7" y1="1302.0" x2="493.7" y2="1301.3" stroke="#46661c" stroke-width="4.5" stroke-linecap="round"/>
<line x1="496.3" y1="1301.1" x2="494.1" y2="1300.7" stroke="#86a03c" stroke-width="1.6" stroke-linecap="round" opacity="0.8"/>
<line x1="497.7" y1="1300.0" x2="501.3" y2="1299.2" stroke="#46661c" stroke-width="4.5" stroke-linecap="round"/>
<line x1="498.9" y1="1299.1" x2="500.9" y2="1298.6" stroke="#86a03c" stroke-width="1.6" stroke-linecap="round" opacity="0.8"/>
<line x1="497.3" y1="1310.3" x2="491.3" y2="1309.3" stroke="#46661c" stroke-width="4.5" stroke-linecap="round"/>
<line x1="495.2" y1="1309.3" x2="491.9" y2="1308.7" stroke="#86a03c" stroke-width="1.6" stroke-linecap="round" opacity="0.8"/>
<line x1="497.3" y1="1308.3" x2="502.7" y2="1307.1" stroke="#46661c" stroke-width="4.5" stroke-linecap="round"/>
<line x1="499.2" y1="1307.2" x2="502.1" y2="1306.6" stroke="#86a03c" stroke-width="1.6" stroke-linecap="round" opacity="0.8"/>
<line x1="496.8" y1="1318.6" x2="488.2" y2="1317.1" stroke="#46661c" stroke-width="6.3" stroke-linecap="round"/>
<line x1="493.8" y1="1317.1" x2="489.1" y2="1316.3" stroke="#86a03c" stroke-width="2.2" stroke-linecap="round" opacity="0.8"/>
<line x1="496.8" y1="1316.6" x2="504.7" y2="1314.9" stroke="#46661c" stroke-width="6.3" stroke-linecap="round"/>
<line x1="499.6" y1="1315.1" x2="503.9" y2="1314.1" stroke="#86a03c" stroke-width="2.2" stroke-linecap="round" opacity="0.8"/>
<line x1="496.4" y1="1326.9" x2="485.1" y2="1324.9" stroke="#46661c" stroke-width="6.3" stroke-linecap="round"/>
<line x1="492.4" y1="1325.3" x2="486.2" y2="1324.2" stroke="#86a03c" stroke-width="2.2" stroke-linecap="round" opacity="0.8"/>
<line x1="496.4" y1="1324.9" x2="506.7" y2="1322.7" stroke="#46661c" stroke-width="6.3" stroke-linecap="round"/>
<line x1="500.0" y1="1323.2" x2="505.7" y2="1322.0" stroke="#86a03c" stroke-width="2.2" stroke-linecap="round" opacity="0.8"/>
<line x1="496.0" y1="1335.2" x2="482.1" y2="1332.8" stroke="#46661c" stroke-width="6.3" stroke-linecap="round"/>
<line x1="491.1" y1="1333.4" x2="483.5" y2="1332.1" stroke="#86a03c" stroke-width="2.2" stroke-linecap="round" opacity="0.8"/>
<line x1="496.0" y1="1333.2" x2="508.6" y2="1330.5" stroke="#46661c" stroke-width="6.3" stroke-linecap="round"/>
<line x1="500.4" y1="1331.3" x2="507.4" y2="1329.8" stroke="#86a03c" stroke-width="2.2" stroke-linecap="round" opacity="0.8"/>
<line x1="495.5" y1="1343.5" x2="479.1" y2="1340.6" stroke="#46661c" stroke-width="6.3" stroke-linecap="round"/>
<line x1="489.8" y1="1341.5" x2="480.7" y2="1339.9" stroke="#86a03c" stroke-width="2.2" stroke-linecap="round" opacity="0.8"/>
<line x1="495.5" y1="1341.5" x2="510.6" y2="1338.3" stroke="#46661c" stroke-width="6.3" stroke-linecap="round"/>
<line x1="500.8" y1="1339.4" x2="509.1" y2="1337.7" stroke="#86a03c" stroke-width="2.2" stroke-linecap="round" opacity="0.8"/>
<line x1="495.1" y1="1351.8" x2="476.1" y2="1348.4" stroke="#46661c" stroke-width="6.3" stroke-linecap="round"/>
<line x1="488.4" y1="1349.7" x2="478.0" y2="1347.8" stroke="#86a03c" stroke-width="2.2" stroke-linecap="round" opacity="0.8"/>
<line x1="495.1" y1="1349.8" x2="512.5" y2="1346.1" stroke="#46661c" stroke-width="6.3" stroke-linecap="round"/>
<line x1="501.2" y1="1347.6" x2="510.7" y2="1345.5" stroke="#86a03c" stroke-width="2.2" stroke-linecap="round" opacity="0.8"/>
<line x1="494.7" y1="1360.1" x2="473.1" y2="1356.3" stroke="#46661c" stroke-width="6.3" stroke-linecap="round"/>
<line x1="487.1" y1="1357.8" x2="475.2" y2="1355.7" stroke="#86a03c" stroke-width="2.2" stroke-linecap="round" opacity="0.8"/>
<line x1="494.7" y1="1358.1" x2="514.4" y2="1353.9" stroke="#46661c" stroke-width="6.3" stroke-linecap="round"/>
<line x1="501.5" y1="1355.7" x2="512.4" y2="1353.4" stroke="#86a03c" stroke-width="2.2" stroke-linecap="round" opacity="0.8"/>
<line x1="494.2" y1="1368.4" x2="470.1" y2="1364.2" stroke="#46661c" stroke-width="6.3" stroke-linecap="round"/>
<line x1="485.8" y1="1366.0" x2="472.5" y2="1363.6" stroke="#86a03c" stroke-width="2.2" stroke-linecap="round" opacity="0.8"/>
<line x1="494.2" y1="1366.4" x2="516.2" y2="1361.7" stroke="#46661c" stroke-width="6.3" stroke-linecap="round"/>
<line x1="501.9" y1="1363.8" x2="514.0" y2="1361.2" stroke="#86a03c" stroke-width="2.2" stroke-linecap="round" opacity="0.8"/>
<line x1="493.8" y1="1376.7" x2="467.2" y2="1372.0" stroke="#46661c" stroke-width="6.3" stroke-linecap="round"/>
<line x1="484.5" y1="1374.1" x2="469.8" y2="1371.5" stroke="#86a03c" stroke-width="2.2" stroke-linecap="round" opacity="0.8"/>
<line x1="493.8" y1="1374.7" x2="518.1" y2="1369.5" stroke="#46661c" stroke-width="6.3" stroke-linecap="round"/>
<line x1="502.3" y1="1371.9" x2="515.7" y2="1369.1" stroke="#86a03c" stroke-width="2.2" stroke-linecap="round" opacity="0.8"/>
<line x1="493.4" y1="1385.0" x2="464.3" y2="1379.9" stroke="#46661c" stroke-width="6.3" stroke-linecap="round"/>
<line x1="483.2" y1="1382.3" x2="467.2" y2="1379.4" stroke="#86a03c" stroke-width="2.2" stroke-linecap="round" opacity="0.8"/>
<line x1="493.4" y1="1383.0" x2="519.9" y2="1377.3" stroke="#46661c" stroke-width="6.3" stroke-linecap="round"/>
<line x1="502.7" y1="1380.1" x2="517.3" y2="1377.0" stroke="#86a03c" stroke-width="2.2" stroke-linecap="round" opacity="0.8"/>
<line x1="492.9" y1="1393.3" x2="463.4" y2="1388.1" stroke="#46661c" stroke-width="6.3" stroke-linecap="round"/>
<line x1="482.6" y1="1390.5" x2="466.4" y2="1387.7" stroke="#86a03c" stroke-width="2.2" stroke-linecap="round" opacity="0.8"/>
<line x1="492.9" y1="1391.3" x2="519.9" y2="1385.6" stroke="#46661c" stroke-width="6.3" stroke-linecap="round"/>
<line x1="502.4" y1="1388.3" x2="517.2" y2="1385.2" stroke="#86a03c" stroke-width="2.2" stroke-linecap="round" opacity="0.8"/>
<line x1="492.5" y1="1401.6" x2="465.4" y2="1396.8" stroke="#46661c" stroke-width="6.3" stroke-linecap="round"/>
<line x1="483.0" y1="1399.0" x2="468.1" y2="1396.4" stroke="#86a03c" stroke-width="2.2" stroke-linecap="round" opacity="0.8"/>
<line x1="492.5" y1="1399.6" x2="517.2" y2="1394.3" stroke="#46661c" stroke-width="6.3" stroke-linecap="round"/>
<line x1="501.1" y1="1396.8" x2="514.7" y2="1393.9" stroke="#86a03c" stroke-width="2.2" stroke-linecap="round" opacity="0.8"/>
<line x1="492.1" y1="1409.9" x2="467.4" y2="1405.6" stroke="#46661c" stroke-width="6.3" stroke-linecap="round"/>
<line x1="483.4" y1="1407.4" x2="469.9" y2="1405.0" stroke="#86a03c" stroke-width="2.2" stroke-linecap="round" opacity="0.8"/>
<line x1="492.1" y1="1407.9" x2="514.5" y2="1403.1" stroke="#46661c" stroke-width="6.3" stroke-linecap="round"/>
<line x1="499.9" y1="1405.3" x2="512.3" y2="1402.7" stroke="#86a03c" stroke-width="2.2" stroke-linecap="round" opacity="0.8"/>
<line x1="491.6" y1="1418.2" x2="469.4" y2="1414.3" stroke="#46661c" stroke-width="6.3" stroke-linecap="round"/>
<line x1="483.9" y1="1415.9" x2="471.7" y2="1413.7" stroke="#86a03c" stroke-width="2.2" stroke-linecap="round" opacity="0.8"/>
<line x1="491.6" y1="1416.2" x2="511.9" y2="1411.9" stroke="#46661c" stroke-width="6.3" stroke-linecap="round"/>
<line x1="498.7" y1="1413.7" x2="509.9" y2="1411.4" stroke="#86a03c" stroke-width="2.2" stroke-linecap="round" opacity="0.8"/>
<line x1="491.2" y1="1426.5" x2="471.4" y2="1423.0" stroke="#46661c" stroke-width="6.3" stroke-linecap="round"/>
<line x1="484.3" y1="1424.3" x2="473.4" y2="1422.4" stroke="#86a03c" stroke-width="2.2" stroke-linecap="round" opacity="0.8"/>
<line x1="491.2" y1="1424.5" x2="509.2" y2="1420.7" stroke="#46661c" stroke-width="6.3" stroke-linecap="round"/>
<line x1="497.5" y1="1422.2" x2="507.4" y2="1420.1" stroke="#86a03c" stroke-width="2.2" stroke-linecap="round" opacity="0.8"/>
<path d="M491 1428 L498 1294" stroke="#9fb060" stroke-width="1.3"/>
<path d="M491 1425 C490 1440 489 1452 490 1463" stroke="#4f6e20" stroke-width="3" fill="none"/>
<line x1="468.6" y1="1438.7" x2="451.8" y2="1441.2" stroke="#46661c" stroke-width="5.2" stroke-linecap="round"/>
<line x1="462.7" y1="1438.8" x2="453.5" y2="1440.2" stroke="#86a03c" stroke-width="1.8" stroke-linecap="round" opacity="0.8"/>
<line x1="468.6" y1="1438.7" x2="477.1" y2="1421.0" stroke="#46661c" stroke-width="5.2" stroke-linecap="round"/>
<line x1="471.6" y1="1431.8" x2="476.2" y2="1422.0" stroke="#86a03c" stroke-width="1.8" stroke-linecap="round" opacity="0.8"/>
<line x1="463.8" y1="1432.2" x2="447.0" y2="1434.6" stroke="#46661c" stroke-width="5.2" stroke-linecap="round"/>
<line x1="457.9" y1="1432.3" x2="448.7" y2="1433.6" stroke="#86a03c" stroke-width="1.8" stroke-linecap="round" opacity="0.8"/>
<line x1="463.8" y1="1432.2" x2="472.3" y2="1414.5" stroke="#46661c" stroke-width="5.2" stroke-linecap="round"/>
<line x1="466.7" y1="1425.2" x2="471.4" y2="1415.5" stroke="#86a03c" stroke-width="1.8" stroke-linecap="round" opacity="0.8"/>
<line x1="459.0" y1="1425.6" x2="442.2" y2="1428.1" stroke="#46661c" stroke-width="5.2" stroke-linecap="round"/>
<line x1="453.1" y1="1425.7" x2="443.9" y2="1427.1" stroke="#86a03c" stroke-width="1.8" stroke-linecap="round" opacity="0.8"/>
<line x1="459.0" y1="1425.6" x2="467.5" y2="1407.9" stroke="#46661c" stroke-width="5.2" stroke-linecap="round"/>
<line x1="461.9" y1="1418.7" x2="466.6" y2="1408.9" stroke="#86a03c" stroke-width="1.8" stroke-linecap="round" opacity="0.8"/>
<line x1="454.1" y1="1419.1" x2="437.2" y2="1421.6" stroke="#46661c" stroke-width="5.2" stroke-linecap="round"/>
<line x1="448.2" y1="1419.2" x2="438.9" y2="1420.5" stroke="#86a03c" stroke-width="1.8" stroke-linecap="round" opacity="0.8"/>
<line x1="454.1" y1="1419.1" x2="462.7" y2="1401.3" stroke="#46661c" stroke-width="5.2" stroke-linecap="round"/>
<line x1="457.1" y1="1412.1" x2="461.8" y2="1402.3" stroke="#86a03c" stroke-width="1.8" stroke-linecap="round" opacity="0.8"/>
<line x1="449.3" y1="1412.5" x2="432.7" y2="1415.0" stroke="#46661c" stroke-width="5.2" stroke-linecap="round"/>
<line x1="443.5" y1="1412.6" x2="434.4" y2="1414.0" stroke="#86a03c" stroke-width="1.8" stroke-linecap="round" opacity="0.8"/>
<line x1="449.3" y1="1412.5" x2="457.7" y2="1395.0" stroke="#46661c" stroke-width="5.2" stroke-linecap="round"/>
<line x1="452.3" y1="1405.6" x2="456.9" y2="1396.0" stroke="#86a03c" stroke-width="1.8" stroke-linecap="round" opacity="0.8"/>
<line x1="444.5" y1="1406.0" x2="428.7" y2="1408.3" stroke="#46661c" stroke-width="5.2" stroke-linecap="round"/>
<line x1="439.0" y1="1406.0" x2="430.3" y2="1407.3" stroke="#86a03c" stroke-width="1.8" stroke-linecap="round" opacity="0.8"/>
<line x1="444.5" y1="1406.0" x2="452.5" y2="1389.3" stroke="#46661c" stroke-width="5.2" stroke-linecap="round"/>
<line x1="447.3" y1="1399.4" x2="451.7" y2="1390.2" stroke="#86a03c" stroke-width="1.8" stroke-linecap="round" opacity="0.8"/>
<line x1="439.7" y1="1399.5" x2="425.1" y2="1401.6" stroke="#46661c" stroke-width="5.2" stroke-linecap="round"/>
<line x1="434.6" y1="1399.4" x2="426.5" y2="1400.6" stroke="#86a03c" stroke-width="1.8" stroke-linecap="round" opacity="0.8"/>
<line x1="439.7" y1="1399.5" x2="447.1" y2="1384.0" stroke="#46661c" stroke-width="5.2" stroke-linecap="round"/>
<line x1="442.3" y1="1393.3" x2="446.3" y2="1384.8" stroke="#86a03c" stroke-width="1.8" stroke-linecap="round" opacity="0.8"/>
<line x1="434.9" y1="1392.9" x2="421.8" y2="1394.8" stroke="#46661c" stroke-width="5.2" stroke-linecap="round"/>
<line x1="430.3" y1="1392.8" x2="423.1" y2="1393.9" stroke="#86a03c" stroke-width="1.8" stroke-linecap="round" opacity="0.8"/>
<line x1="434.9" y1="1392.9" x2="441.5" y2="1379.2" stroke="#46661c" stroke-width="5.2" stroke-linecap="round"/>
<line x1="437.2" y1="1387.3" x2="440.8" y2="1379.8" stroke="#86a03c" stroke-width="1.8" stroke-linecap="round" opacity="0.8"/>
<line x1="430.0" y1="1386.4" x2="418.9" y2="1388.0" stroke="#46661c" stroke-width="5.2" stroke-linecap="round"/>
<line x1="426.1" y1="1386.2" x2="420.0" y2="1387.1" stroke="#86a03c" stroke-width="1.8" stroke-linecap="round" opacity="0.8"/>
<line x1="430.0" y1="1386.4" x2="435.7" y2="1374.6" stroke="#46661c" stroke-width="5.2" stroke-linecap="round"/>
<line x1="432.0" y1="1381.5" x2="435.1" y2="1375.0" stroke="#86a03c" stroke-width="1.8" stroke-linecap="round" opacity="0.8"/>
<line x1="425.2" y1="1379.8" x2="416.2" y2="1381.1" stroke="#46661c" stroke-width="5.2" stroke-linecap="round"/>
<line x1="422.1" y1="1379.5" x2="417.1" y2="1380.2" stroke="#86a03c" stroke-width="1.8" stroke-linecap="round" opacity="0.8"/>
<line x1="425.2" y1="1379.8" x2="429.8" y2="1370.3" stroke="#46661c" stroke-width="5.2" stroke-linecap="round"/>
<line x1="426.8" y1="1375.7" x2="429.3" y2="1370.5" stroke="#86a03c" stroke-width="1.8" stroke-linecap="round" opacity="0.8"/>
<line x1="420.4" y1="1373.3" x2="413.6" y2="1374.3" stroke="#46661c" stroke-width="5.2" stroke-linecap="round"/>
<line x1="418.0" y1="1372.8" x2="414.3" y2="1373.4" stroke="#86a03c" stroke-width="1.8" stroke-linecap="round" opacity="0.8"/>
<line x1="420.4" y1="1373.3" x2="423.8" y2="1366.1" stroke="#46661c" stroke-width="5.2" stroke-linecap="round"/>
<line x1="421.6" y1="1370.0" x2="423.5" y2="1366.0" stroke="#86a03c" stroke-width="1.8" stroke-linecap="round" opacity="0.8"/>
<path d="M471 1442 L418 1370" stroke="#9fb060" stroke-width="1.1"/>
<path d="M470 1440 C475 1450 480 1457 485 1462" stroke="#4f6e20" stroke-width="2.5" fill="none"/>
<line x1="522.5" y1="1429.4" x2="518.6" y2="1410.1" stroke="#46661c" stroke-width="5.5" stroke-linecap="round"/>
<line x1="521.1" y1="1421.8" x2="519.0" y2="1411.2" stroke="#86a03c" stroke-width="1.9" stroke-linecap="round" opacity="0.8"/>
<line x1="522.5" y1="1429.4" x2="542.5" y2="1434.2" stroke="#46661c" stroke-width="5.5" stroke-linecap="round"/>
<line x1="529.5" y1="1430.2" x2="540.5" y2="1432.9" stroke="#86a03c" stroke-width="1.9" stroke-linecap="round" opacity="0.8"/>
<line x1="527.5" y1="1424.1" x2="523.8" y2="1405.6" stroke="#46661c" stroke-width="5.5" stroke-linecap="round"/>
<line x1="526.2" y1="1416.8" x2="524.1" y2="1406.6" stroke="#86a03c" stroke-width="1.9" stroke-linecap="round" opacity="0.8"/>
<line x1="527.5" y1="1424.1" x2="546.8" y2="1428.8" stroke="#46661c" stroke-width="5.5" stroke-linecap="round"/>
<line x1="534.2" y1="1424.9" x2="544.8" y2="1427.5" stroke="#86a03c" stroke-width="1.9" stroke-linecap="round" opacity="0.8"/>
<line x1="532.5" y1="1418.9" x2="528.9" y2="1401.1" stroke="#46661c" stroke-width="5.5" stroke-linecap="round"/>
<line x1="531.2" y1="1411.8" x2="529.3" y2="1402.1" stroke="#86a03c" stroke-width="1.9" stroke-linecap="round" opacity="0.8"/>
<line x1="532.5" y1="1418.9" x2="551.0" y2="1423.4" stroke="#46661c" stroke-width="5.5" stroke-linecap="round"/>
<line x1="539.0" y1="1419.6" x2="549.1" y2="1422.1" stroke="#86a03c" stroke-width="1.9" stroke-linecap="round" opacity="0.8"/>
<line x1="537.5" y1="1413.6" x2="534.1" y2="1396.6" stroke="#46661c" stroke-width="5.5" stroke-linecap="round"/>
<line x1="536.3" y1="1406.8" x2="534.4" y2="1397.5" stroke="#86a03c" stroke-width="1.9" stroke-linecap="round" opacity="0.8"/>
<line x1="537.5" y1="1413.6" x2="555.2" y2="1417.9" stroke="#46661c" stroke-width="5.5" stroke-linecap="round"/>
<line x1="543.7" y1="1414.3" x2="553.5" y2="1416.7" stroke="#86a03c" stroke-width="1.9" stroke-linecap="round" opacity="0.8"/>
<line x1="542.5" y1="1408.4" x2="539.2" y2="1392.1" stroke="#46661c" stroke-width="5.5" stroke-linecap="round"/>
<line x1="541.4" y1="1401.8" x2="539.5" y2="1392.9" stroke="#86a03c" stroke-width="1.9" stroke-linecap="round" opacity="0.8"/>
<line x1="542.5" y1="1408.4" x2="559.5" y2="1412.5" stroke="#46661c" stroke-width="5.5" stroke-linecap="round"/>
<line x1="548.4" y1="1409.0" x2="557.8" y2="1411.2" stroke="#86a03c" stroke-width="1.9" stroke-linecap="round" opacity="0.8"/>
<line x1="547.5" y1="1403.1" x2="544.4" y2="1387.6" stroke="#46661c" stroke-width="5.5" stroke-linecap="round"/>
<line x1="546.4" y1="1396.9" x2="544.7" y2="1388.3" stroke="#86a03c" stroke-width="1.9" stroke-linecap="round" opacity="0.8"/>
<line x1="552.5" y1="1397.9" x2="549.5" y2="1383.0" stroke="#46661c" stroke-width="5.5" stroke-linecap="round"/>
<line x1="551.5" y1="1391.9" x2="549.8" y2="1383.7" stroke="#86a03c" stroke-width="1.9" stroke-linecap="round" opacity="0.8"/>
<line x1="557.5" y1="1392.6" x2="554.7" y2="1378.5" stroke="#46661c" stroke-width="5.5" stroke-linecap="round"/>
<line x1="556.5" y1="1386.9" x2="554.9" y2="1379.1" stroke="#86a03c" stroke-width="1.9" stroke-linecap="round" opacity="0.8"/>
<path d="M520 1432 L560 1390" stroke="#9fb060" stroke-width="1.1"/>
<path d="M557 1404 C561 1385 562 1360 563 1340 C565 1328 568 1322 574 1316 C576 1330 572 1345 571 1362 C570 1378 569 1392 566 1404 Z" fill="#8e7e42"/>
<circle cx="566.6" cy="1382.4" r="1.0" fill="#4e4014"/>
<circle cx="568.2" cy="1397.6" r="1.0" fill="#4e4014"/>
<circle cx="567.7" cy="1396.1" r="1.0" fill="#4e4014"/>
<circle cx="561.3" cy="1361.4" r="1.0" fill="#4e4014"/>
<circle cx="569.5" cy="1375.3" r="1.0" fill="#4e4014"/>
<circle cx="569.1" cy="1334.6" r="1.0" fill="#4e4014"/>
<circle cx="565.2" cy="1344.7" r="1.0" fill="#4e4014"/>
<circle cx="565.9" cy="1369.6" r="1.0" fill="#4e4014"/>
<circle cx="561.1" cy="1342.5" r="1.0" fill="#4e4014"/>
<circle cx="563.5" cy="1395.6" r="1.0" fill="#4e4014"/>
<circle cx="567.9" cy="1338.1" r="1.0" fill="#4e4014"/>
<circle cx="568.2" cy="1336.5" r="1.0" fill="#4e4014"/>
<circle cx="566.6" cy="1335.6" r="1.0" fill="#4e4014"/>
<circle cx="561.0" cy="1392.2" r="1.0" fill="#4e4014"/>
<circle cx="562.9" cy="1342.4" r="1.0" fill="#4e4014"/>
<circle cx="569.8" cy="1392.3" r="1.0" fill="#4e4014"/>
<circle cx="563.6" cy="1399.1" r="1.0" fill="#4e4014"/>
<circle cx="565.9" cy="1377.5" r="1.0" fill="#4e4014"/>
<circle cx="562.8" cy="1397.5" r="1.0" fill="#4e4014"/>
<circle cx="567.2" cy="1399.5" r="1.0" fill="#4e4014"/>
<circle cx="569.0" cy="1348.7" r="1.0" fill="#4e4014"/>
<circle cx="564.3" cy="1338.6" r="1.0" fill="#4e4014"/>
<circle cx="562.3" cy="1331.0" r="1.0" fill="#4e4014"/>
<circle cx="563.7" cy="1371.8" r="1.0" fill="#4e4014"/>
<circle cx="561.0" cy="1377.5" r="1.0" fill="#4e4014"/>
<circle cx="564.0" cy="1349.6" r="1.0" fill="#4e4014"/>
<circle cx="568.4" cy="1362.5" r="1.0" fill="#4e4014"/>
<circle cx="563.8" cy="1362.6" r="1.0" fill="#4e4014"/>
<circle cx="567.3" cy="1330.3" r="1.0" fill="#4e4014"/>
<circle cx="569.8" cy="1327.7" r="1.0" fill="#4e4014"/>
<circle cx="567.7" cy="1390.2" r="1.0" fill="#4e4014"/>
<circle cx="561.2" cy="1385.9" r="1.0" fill="#4e4014"/>
<circle cx="564.3" cy="1370.0" r="1.0" fill="#4e4014"/>
<circle cx="561.1" cy="1329.6" r="1.0" fill="#4e4014"/>
<circle cx="562.6" cy="1398.6" r="1.0" fill="#4e4014"/>
<circle cx="562.8" cy="1383.4" r="1.0" fill="#4e4014"/>
<circle cx="569.4" cy="1397.6" r="1.0" fill="#4e4014"/>
<circle cx="564.1" cy="1353.0" r="1.0" fill="#4e4014"/>
<circle cx="565.7" cy="1384.9" r="1.0" fill="#4e4014"/>
<circle cx="562.0" cy="1382.9" r="1.0" fill="#4e4014"/>
<path d="M520 1432 C512 1442 507 1452 503 1462" stroke="#4f6e20" stroke-width="2.5" fill="none"/>
<path d="M503 1462 C504 1450 502 1442 506 1436 C512 1430 519 1436 515 1442 C512 1446 507 1443 509 1439" stroke="#8a9a4a" stroke-width="3" fill="none"/>
<path d="M515 1464 C520 1458 522 1452 526 1448 C532 1445 535 1452 531 1455 C528 1457 525 1453 528 1451" stroke="#8a9a4a" stroke-width="2.6" fill="none"/>
<path d="M462 1463 C480 1459 505 1459 532 1465 C528 1471 510 1473 490 1472 C475 1471 465 1469 462 1463 Z" fill="#7a6a30"/>
<line x1="516.6" y1="1469.5" x2="512.0" y2="1473.0" stroke="#5a4a1a" stroke-width="1.2"/>
<line x1="477.8" y1="1465.6" x2="476.4" y2="1462.8" stroke="#9a9050" stroke-width="1.2"/>
<line x1="525.0" y1="1466.0" x2="523.1" y2="1464.5" stroke="#5a4a1a" stroke-width="1.2"/>
<line x1="516.7" y1="1466.9" x2="518.9" y2="1465.4" stroke="#9a9050" stroke-width="1.2"/>
<line x1="474.7" y1="1460.5" x2="479.5" y2="1460.8" stroke="#9a9050" stroke-width="1.2"/>
<line x1="466.1" y1="1468.1" x2="464.5" y2="1466.1" stroke="#6b5a25" stroke-width="1.2"/>
<line x1="491.8" y1="1460.6" x2="496.0" y2="1456.9" stroke="#9a9050" stroke-width="1.2"/>
<line x1="486.1" y1="1462.3" x2="490.9" y2="1462.8" stroke="#5a4a1a" stroke-width="1.2"/>
<line x1="505.6" y1="1468.7" x2="501.7" y2="1468.1" stroke="#5a4a1a" stroke-width="1.2"/>
<line x1="467.9" y1="1464.6" x2="464.3" y2="1468.0" stroke="#6b5a25" stroke-width="1.2"/>
<line x1="520.2" y1="1470.7" x2="519.8" y2="1470.6" stroke="#6b5a25" stroke-width="1.2"/>
<line x1="485.0" y1="1463.0" x2="484.7" y2="1466.2" stroke="#5a4a1a" stroke-width="1.2"/>
<line x1="488.9" y1="1470.9" x2="493.5" y2="1471.9" stroke="#9a9050" stroke-width="1.2"/>
<line x1="521.3" y1="1462.0" x2="521.2" y2="1462.1" stroke="#6b5a25" stroke-width="1.2"/>
<line x1="521.2" y1="1464.0" x2="524.1" y2="1466.2" stroke="#6b5a25" stroke-width="1.2"/>
<line x1="502.8" y1="1460.4" x2="500.8" y2="1460.9" stroke="#6b5a25" stroke-width="1.2"/>
<line x1="482.5" y1="1465.3" x2="485.2" y2="1466.9" stroke="#9a9050" stroke-width="1.2"/>
<line x1="527.2" y1="1463.7" x2="523.9" y2="1466.6" stroke="#9a9050" stroke-width="1.2"/>
<line x1="500.1" y1="1462.8" x2="501.8" y2="1462.5" stroke="#6b5a25" stroke-width="1.2"/>
<line x1="506.7" y1="1468.8" x2="505.2" y2="1469.9" stroke="#6b5a25" stroke-width="1.2"/>
<line x1="525.9" y1="1464.5" x2="530.1" y2="1461.9" stroke="#6b5a25" stroke-width="1.2"/>
<line x1="493.7" y1="1464.0" x2="492.0" y2="1461.1" stroke="#5a4a1a" stroke-width="1.2"/>
<line x1="477.1" y1="1464.0" x2="480.6" y2="1462.2" stroke="#5a4a1a" stroke-width="1.2"/>
<line x1="511.5" y1="1468.0" x2="508.2" y2="1470.3" stroke="#6b5a25" stroke-width="1.2"/>
<line x1="498.1" y1="1470.3" x2="496.1" y2="1470.7" stroke="#6b5a25" stroke-width="1.2"/>
<line x1="481.9" y1="1471.0" x2="478.8" y2="1471.6" stroke="#6b5a25" stroke-width="1.2"/>
<line x1="506.9" y1="1462.4" x2="508.8" y2="1463.5" stroke="#5a4a1a" stroke-width="1.2"/>
<line x1="529.1" y1="1470.8" x2="525.8" y2="1473.9" stroke="#5a4a1a" stroke-width="1.2"/>
<line x1="484.9" y1="1462.0" x2="481.9" y2="1458.3" stroke="#9a9050" stroke-width="1.2"/>
<line x1="487.2" y1="1467.3" x2="482.9" y2="1464.9" stroke="#6b5a25" stroke-width="1.2"/>
<path d="M516.8 1472 q-6.0 6 -1.5 7.7" stroke="#b4a294" stroke-width="0.8" fill="none"/>
<path d="M490.1 1472 q-4.6 6 5.3 8.2" stroke="#b4a294" stroke-width="0.8" fill="none"/>
<path d="M469.9 1472 q1.4 6 -6.5 9.3" stroke="#b4a294" stroke-width="0.8" fill="none"/>
<path d="M486.3 1472 q1.0 6 7.3 10.9" stroke="#b4a294" stroke-width="0.8" fill="none"/>
<path d="M490.6 1472 q3.8 6 2.3 8.2" stroke="#b4a294" stroke-width="0.8" fill="none"/>
<path d="M475.7 1472 q1.2 6 1.0 11.7" stroke="#b4a294" stroke-width="0.8" fill="none"/>
<path d="M520.3 1472 q1.3 6 -2.4 11.4" stroke="#b4a294" stroke-width="0.8" fill="none"/>
<path d="M468.1 1472 q-4.7 6 1.1 9.7" stroke="#b4a294" stroke-width="0.8" fill="none"/>
<path d="M475.6 1472 q1.6 6 6.3 8.3" stroke="#b4a294" stroke-width="0.8" fill="none"/>
<path d="M491.3 1472 q-3.3 6 -3.3 11.8" stroke="#b4a294" stroke-width="0.8" fill="none"/>
<path d="M488.5 1472 q5.5 6 6.6 9.6" stroke="#b4a294" stroke-width="0.8" fill="none"/>
<path d="M482.0 1472 q5.8 6 -0.1 8.5" stroke="#b4a294" stroke-width="0.8" fill="none"/>
<path d="M485.2 1472 q5.8 6 -0.1 7.7" stroke="#b4a294" stroke-width="0.8" fill="none"/>
<path d="M493.8 1472 q-4.5 6 1.9 8.7" stroke="#b4a294" stroke-width="0.8" fill="none"/>
<path d="M483.8 1472 q3.4 6 5.2 6.1" stroke="#b4a294" stroke-width="0.8" fill="none"/>
<path d="M496.8 1472 q-2.7 6 7.0 10.7" stroke="#b4a294" stroke-width="0.8" fill="none"/>
<line x1="538" y1="1309" x2="563" y2="1330" stroke="#222" stroke-width="0.8"/>
<line x1="538" y1="1309" x2="558" y2="1348" stroke="#222" stroke-width="0.8"/>
<line x1="597" y1="1403" x2="561" y2="1411" stroke="#222" stroke-width="0.8"/>
<line x1="597" y1="1403" x2="556" y2="1422" stroke="#222" stroke-width="0.8"/>
<line x1="558" y1="1437" x2="533" y2="1451" stroke="#222" stroke-width="0.8"/>
<line x1="563" y1="1457" x2="530" y2="1468" stroke="#222" stroke-width="0.8"/>
<line x1="414" y1="1427" x2="425" y2="1421" stroke="#222" stroke-width="0.8"/>
<line x1="462" y1="1491" x2="491" y2="1502" stroke="#222" stroke-width="0.8"/>
<line x1="491" y1="1502" x2="542" y2="1493" stroke="#222" stroke-width="0.8"/>
<line x1="513" y1="1488" x2="542" y2="1493" stroke="#222" stroke-width="0.8"/>
<path d="M407 1376 L402 1378 L449 1460 L454 1458" stroke="#222" stroke-width="0.9" fill="none"/>
</svg>
<div class="a" style="left:365.1px;top:13.0px;font-size:87px;color:#9ec3e8;transform:scaleX(0.9312);text-shadow:4px 4px 0 #e4e0e0;">Botânica</div>
<div class="a" style="left:43.0px;top:126.0px;font-size:33px;color:#a7a5a7;transform:scaleX(0.9759);-webkit-text-stroke:1.2px #a7a5a7;">- Eucariontes e pluricelulares;</div>
<div class="a" style="left:43.0px;top:164.0px;font-size:33px;color:#a7a5a7;transform:scaleX(0.9579);-webkit-text-stroke:1.2px #a7a5a7;">- Autótrofos fotossintetizantes</div>
<div class="a" style="left:42.3px;top:201.0px;font-size:33px;color:#a7a5a7;transform:scaleX(0.7143);-webkit-text-stroke:2px #a7a5a7;">(</div>
<div class="a" style="left:54.0px;top:208.0px;font-size:25px;color:#9ec3e8;transform:scaleX(1.0263);-webkit-text-stroke:0.9px #9ec3e8;">por conta da clorofila</div>
<div class="a" style="left:317.9px;top:201.0px;font-size:33px;color:#a7a5a7;transform:scaleX(0.6429);-webkit-text-stroke:2px #a7a5a7;">)</div>
<div class="a" style="left:42.0px;top:241.0px;font-size:40px;color:#9ec3e8;transform:scaleX(0.9942);-webkit-text-stroke:1.4px #9ec3e8;">Criptógamas:</div>
<div class="a" style="left:43.0px;top:285.0px;font-size:33px;color:#a7a5a7;transform:scaleX(0.9268);-webkit-text-stroke:1.2px #a7a5a7;">Não produzem flores, frutos e</div>
<div class="a" style="left:42.0px;top:322.0px;font-size:33px;color:#a7a5a7;transform:scaleX(0.8728);-webkit-text-stroke:1.2px #a7a5a7;">sementes.</div>
<div class="a" style="left:43.0px;top:358.0px;font-size:33px;color:#a7a5a7;transform:scaleX(0.9632);-webkit-text-stroke:1.2px #a7a5a7;">- Briófitas</div>
<div class="a" style="left:198.3px;top:358.0px;font-size:33px;color:#a7a5a7;transform:scaleX(0.7143);-webkit-text-stroke:2px #a7a5a7;">(</div>
<div class="a" style="left:209.0px;top:365.0px;font-size:25px;color:#9ec3e8;transform:scaleX(0.9981);-webkit-text-stroke:0.9px #9ec3e8;">avasculares</div>
<div class="a" style="left:354.4px;top:358.0px;font-size:33px;color:#a7a5a7;transform:scaleX(0.7920);-webkit-text-stroke:2px #a7a5a7;">);</div>
<div class="a" style="left:43.0px;top:395.0px;font-size:33px;color:#a7a5a7;transform:scaleX(0.9685);-webkit-text-stroke:1.2px #a7a5a7;">- Pteridófitas</div>
<div class="a" style="left:246.3px;top:395.0px;font-size:33px;color:#a7a5a7;transform:scaleX(0.7143);-webkit-text-stroke:2px #a7a5a7;">(</div>
<div class="a" style="left:255.0px;top:402.0px;font-size:25px;color:#9ec3e8;transform:scaleX(1.0049);-webkit-text-stroke:0.9px #9ec3e8;">vasculares</div>
<div class="a" style="left:386.4px;top:395.0px;font-size:33px;color:#a7a5a7;transform:scaleX(0.7920);-webkit-text-stroke:2px #a7a5a7;">);</div>
<div class="a" style="left:50.0px;top:433.0px;font-size:40px;color:#9ec3e8;transform:scaleX(0.9699);-webkit-text-stroke:1.4px #9ec3e8;">Briófitas:</div>
<div class="a" style="left:43.0px;top:478.0px;font-size:33px;color:#a7a5a7;transform:scaleX(0.9026);-webkit-text-stroke:1.2px #a7a5a7;">- Sem vasos condutores de</div>
<div class="a" style="left:41.0px;top:516.0px;font-size:33px;color:#a7a5a7;transform:scaleX(0.9486);-webkit-text-stroke:1.2px #a7a5a7;">seiva</div>
<div class="a" style="left:124.2px;top:516.0px;font-size:33px;color:#a7a5a7;transform:scaleX(0.7857);-webkit-text-stroke:2px #a7a5a7;">(</div>
<div class="a" style="left:135.0px;top:523.0px;font-size:25px;color:#9ec3e8;transform:scaleX(1.0090);-webkit-text-stroke:0.9px #9ec3e8;">xilema e floema</div>
<div class="a" style="left:324.3px;top:516.0px;font-size:33px;color:#a7a5a7;transform:scaleX(0.7503);-webkit-text-stroke:2px #a7a5a7;">);</div>
<div class="a" style="left:43.0px;top:553.0px;font-size:33px;color:#a7a5a7;transform:scaleX(0.9228);-webkit-text-stroke:1.2px #a7a5a7;">- Pequeno porte;</div>
<div class="a" style="left:43.0px;top:589.0px;font-size:33px;color:#a7a5a7;transform:scaleX(0.9213);-webkit-text-stroke:1.2px #a7a5a7;">- Vivem em ambientes úmidos;</div>
<div class="a" style="left:43.0px;top:626.0px;font-size:33px;color:#a7a5a7;transform:scaleX(0.9525);-webkit-text-stroke:1.2px #a7a5a7;">- Precisam de água para se</div>
<div class="a" style="left:42.0px;top:663.0px;font-size:33px;color:#a7a5a7;transform:scaleX(0.9870);-webkit-text-stroke:1.2px #a7a5a7;">reproduzirem;</div>
<div class="a" style="left:43.0px;top:699.0px;font-size:33px;color:#a7a5a7;transform:scaleX(0.9618);-webkit-text-stroke:1.2px #a7a5a7;">- Criptógamas;</div>
<div class="a" style="left:43.0px;top:736.0px;font-size:33px;color:#a7a5a7;transform:scaleX(0.9577);-webkit-text-stroke:1.2px #a7a5a7;">- Não apresentam órgãos</div>
<div class="a" style="left:41.0px;top:772.0px;font-size:33px;color:#a7a5a7;transform:scaleX(0.9587);-webkit-text-stroke:1.2px #a7a5a7;">verdadeiros;</div>
<div class="a" style="left:43.0px;top:810.0px;font-size:33px;color:#9ec3e8;transform:scaleX(0.9114);-webkit-text-stroke:1.2px #9ec3e8;">Hepáticas, antóceros e musgos</div>
<div class="a" style="left:574.0px;top:139.0px;font-size:27px;color:#a7a5a7;transform:scaleX(1.0519);-webkit-text-stroke:0.7px #a7a5a7;">- os esporângeos liberam</div>
<div class="a" style="left:574.0px;top:174.0px;font-size:27px;color:#a7a5a7;transform:scaleX(0.9717);-webkit-text-stroke:0.7px #a7a5a7;">os esporos -</div>
<div class="a" style="left:573.0px;top:206.0px;font-size:40px;color:#9ec3e8;transform:scaleX(0.9596);-webkit-text-stroke:1.4px #9ec3e8;">Gimnospermas;</div>
<div class="a" style="left:574.0px;top:250.0px;font-size:33px;color:#a7a5a7;transform:scaleX(0.9337);-webkit-text-stroke:1.2px #a7a5a7;">- Não produzem frutos;</div>
<div class="a" style="left:574.0px;top:287.0px;font-size:33px;color:#a7a5a7;transform:scaleX(0.8925);-webkit-text-stroke:1.2px #a7a5a7;">- Sementes nuas;</div>
<div class="a" style="left:574.0px;top:323.0px;font-size:33px;color:#a7a5a7;transform:scaleX(0.8960);-webkit-text-stroke:1.2px #a7a5a7;">- Com vasos condutores;</div>
<div class="a" style="left:574.0px;top:360.0px;font-size:33px;color:#a7a5a7;transform:scaleX(0.8690);-webkit-text-stroke:1.2px #a7a5a7;">- Possuem sementes;</div>
<div class="a" style="left:574.0px;top:397.0px;font-size:33px;color:#9ec3e8;transform:scaleX(0.9077);-webkit-text-stroke:1.2px #9ec3e8;">Pinheiros e sequóias.</div>
<div class="a" style="left:575.9px;top:671.0px;font-size:40px;color:#9ec3e8;transform:scaleX(0.9489);-webkit-text-stroke:1.4px #9ec3e8;">Angiospermas;</div>
<div class="a" style="left:574.0px;top:716.0px;font-size:33px;color:#a7a5a7;transform:scaleX(0.8914);-webkit-text-stroke:1.2px #a7a5a7;">- Possuem flores e frutos;</div>
<div class="a" style="left:574.0px;top:753.0px;font-size:33px;color:#a7a5a7;transform:scaleX(0.9349);-webkit-text-stroke:1.2px #a7a5a7;">- Vasculares;</div>
<div class="a" style="left:574.0px;top:789.0px;font-size:33px;color:#a7a5a7;transform:scaleX(0.9205);-webkit-text-stroke:1.2px #a7a5a7;">- Sementes protegidas;</div>
<div class="a" style="left:574.0px;top:827.0px;font-size:33px;color:#a7a5a7;transform:scaleX(0.9714);-webkit-text-stroke:1.2px #a7a5a7;">- A flor é a parte reprodutiva;</div>
<div class="a" style="left:44.0px;top:1171.0px;font-size:40px;color:#9ec3e8;transform:scaleX(0.9826);-webkit-text-stroke:1.4px #9ec3e8;">Pteridófitas:</div>
<div class="a" style="left:43.0px;top:1216.0px;font-size:33px;color:#a7a5a7;transform:scaleX(0.8960);-webkit-text-stroke:1.2px #a7a5a7;">- Com vasos condutores;</div>
<div class="a" style="left:43.0px;top:1252.0px;font-size:33px;color:#a7a5a7;transform:scaleX(0.8981);-webkit-text-stroke:1.2px #a7a5a7;">- Tecidos de sustentação;</div>
<div class="a" style="left:43.0px;top:1289.0px;font-size:33px;color:#a7a5a7;transform:scaleX(0.9855);-webkit-text-stroke:1.2px #a7a5a7;">- Maior tamanho;</div>
<div class="a" style="left:43.0px;top:1326.0px;font-size:33px;color:#a7a5a7;transform:scaleX(0.9427);-webkit-text-stroke:1.2px #a7a5a7;">- Precisam de água;</div>
<div class="a" style="left:43.0px;top:1362.0px;font-size:33px;color:#a7a5a7;transform:scaleX(0.9575);-webkit-text-stroke:1.2px #a7a5a7;">- Criptógamas;</div>
<div class="a" style="left:43.0px;top:1398.0px;font-size:33px;color:#9ec3e8;transform:scaleX(0.9209);-webkit-text-stroke:1.2px #9ec3e8;">Samambaias, avenças...</div>
<div class="a" style="left:324.0px;top:895.0px;font-size:26px;color:#eef0f3;transform:scaleX(0.9519);-webkit-text-stroke:0.3px #eef0f3;">Reprodução:</div>
<div class="a" style="left:324.0px;top:926.0px;font-size:19px;color:#eef0f3;transform:scaleX(0.9868);">Fase esporófita</div>
<div class="a" style="left:323.1px;top:946.0px;font-size:19px;color:#eef0f3;transform:scaleX(1.0861);">predominante</div>
<div class="a" style="left:612.0px;top:1167.0px;font-size:26px;color:#eef0f3;transform:scaleX(0.9519);-webkit-text-stroke:0.3px #eef0f3;">Reprodução:</div>
<div class="a" style="left:612.0px;top:1198.0px;font-size:19px;color:#eef0f3;transform:scaleX(1.0201);">Fase gametófita</div>
<div class="a" style="left:612.1px;top:1221.0px;font-size:19px;color:#eef0f3;transform:scaleX(1.0861);">predominante</div>
<div class="b" style="left:200.0px;top:851.0px;font-size:13px;color:#1e1e1e;transform:scaleX(0.9933);">Cápsula</div>
<div class="b" style="left:243.0px;top:870.0px;font-size:13px;color:#1e1e1e;transform:scaleX(1.0035);">Esporo</div>
<div class="b" style="left:52.0px;top:921.0px;font-size:13px;color:#1e1e1e;transform:scaleX(0.9992);">Esporófito</div>
<div class="b" style="left:227.0px;top:942.0px;font-size:13px;color:#1e1e1e;transform:scaleX(0.9564);">Seta</div>
<div class="b" style="left:230.0px;top:1030.0px;font-size:13px;color:#1e1e1e;transform:scaleX(1.0161);">Filídios</div>
<div class="b" style="left:44.0px;top:1061.0px;font-size:13px;color:#1e1e1e;transform:scaleX(0.9902);">Gametófito</div>
<div class="b" style="left:163.0px;top:1155.0px;font-size:13px;color:#1e1e1e;transform:scaleX(1.0146);">Rizoides</div>
<div class="b" style="left:754.0px;top:441.0px;font-size:11px;color:#333333;transform:scaleX(0.9458);">Carpelo</div>
<div class="b" style="left:848.0px;top:517.0px;font-size:11px;color:#333333;transform:scaleX(0.9483);">Estame</div>
<div class="b" style="left:850.0px;top:556.0px;font-size:11px;color:#333333;transform:scaleX(0.9312);">Pétala</div>
<div class="b" style="left:818.0px;top:604.0px;font-size:11px;color:#333333;transform:scaleX(0.9629);">Sépala</div>
<div class="b" style="left:580.0px;top:626.0px;font-size:11px;color:#333333;transform:scaleX(0.9863);">Receptáculo floral</div>
<div class="b" style="left:742.0px;top:646.0px;font-size:11px;color:#333333;transform:scaleX(0.9870);">Pedúnculo floral</div>
<div class="d" style="left:651.0px;top:869.0px;font-size:11.5px;color:#1e1e1e;transform:scaleX(1.0123);-webkit-text-stroke:0.45px #1e1e1e;">Estigma</div>
<div class="d" style="left:651.0px;top:890.0px;font-size:11.5px;color:#1e1e1e;transform:scaleX(0.9878);-webkit-text-stroke:0.45px #1e1e1e;">Estilo</div>
<div class="d" style="left:651.0px;top:918.0px;font-size:11.5px;color:#1e1e1e;transform:scaleX(1.0119);-webkit-text-stroke:0.45px #1e1e1e;">Ovário</div>
<div class="d" style="left:651.0px;top:941.0px;font-size:11.5px;color:#1e1e1e;transform:scaleX(1.0403);-webkit-text-stroke:0.45px #1e1e1e;">Óvulo</div>
<div class="d" style="left:572.0px;top:901.0px;font-size:15.6px;color:#1e1e1e;transform:scaleX(1.0289);-webkit-text-stroke:0.75px #1e1e1e;">Pistilo</div>
<div class="d" style="left:881.0px;top:882.0px;font-size:11.5px;color:#1e1e1e;transform:scaleX(0.9878);-webkit-text-stroke:0.45px #1e1e1e;">Antera</div>
<div class="d" style="left:880.0px;top:896.0px;font-size:11.5px;color:#1e1e1e;transform:scaleX(1.0129);-webkit-text-stroke:0.45px #1e1e1e;">Filamento</div>
<div class="d" style="left:952.0px;top:888.0px;font-size:15.6px;color:#1e1e1e;transform:scaleX(1.0404);-webkit-text-stroke:0.75px #1e1e1e;">Estame</div>
<div class="d" style="left:882.0px;top:1074.0px;font-size:15.6px;color:#1e1e1e;transform:scaleX(1.0038);-webkit-text-stroke:0.75px #1e1e1e;">Sépala</div>
<div class="d" style="left:865.0px;top:1114.0px;font-size:15.6px;color:#1e1e1e;transform:scaleX(1.0258);-webkit-text-stroke:0.75px #1e1e1e;">Pendúculo</div>
<div class="d" style="left:722.0px;top:1120.0px;font-size:15.6px;color:#1e1e1e;transform:scaleX(1.0238);-webkit-text-stroke:0.75px #1e1e1e;">Receptáculo</div>
<div class="d" style="left:650.0px;top:1098.0px;font-size:15.6px;color:#1e1e1e;transform:scaleX(1.0404);-webkit-text-stroke:0.75px #1e1e1e;">Pétala</div>
<div class="c" style="left:522.0px;top:1297.0px;font-size:8px;color:#1a1a1a;transform:scaleX(0.8404);-webkit-text-stroke:0.25px #1a1a1a;">SOROS</div>
<div class="c" style="left:598.0px;top:1397.0px;font-size:8px;color:#1a1a1a;transform:scaleX(0.8569);-webkit-text-stroke:0.25px #1a1a1a;">FOLÍOLOS</div>
<div class="c" style="left:560.0px;top:1433.0px;font-size:8px;color:#1a1a1a;transform:scaleX(0.9374);-webkit-text-stroke:0.25px #1a1a1a;">BÁCULO (folhas jovens)</div>
<div class="c" style="left:565.0px;top:1453.0px;font-size:8px;color:#1a1a1a;transform:scaleX(0.9291);-webkit-text-stroke:0.25px #1a1a1a;">RIZOMA (caule)</div>
<div class="c" style="left:400.0px;top:1429.0px;font-size:8px;color:#1a1a1a;transform:scaleX(0.8780);-webkit-text-stroke:0.25px #1a1a1a;">FOLHA</div>
<div class="c" style="left:544.0px;top:1489.0px;font-size:8px;color:#1a1a1a;transform:scaleX(0.8754);-webkit-text-stroke:0.25px #1a1a1a;">RAÍZES</div>
</body></html>
